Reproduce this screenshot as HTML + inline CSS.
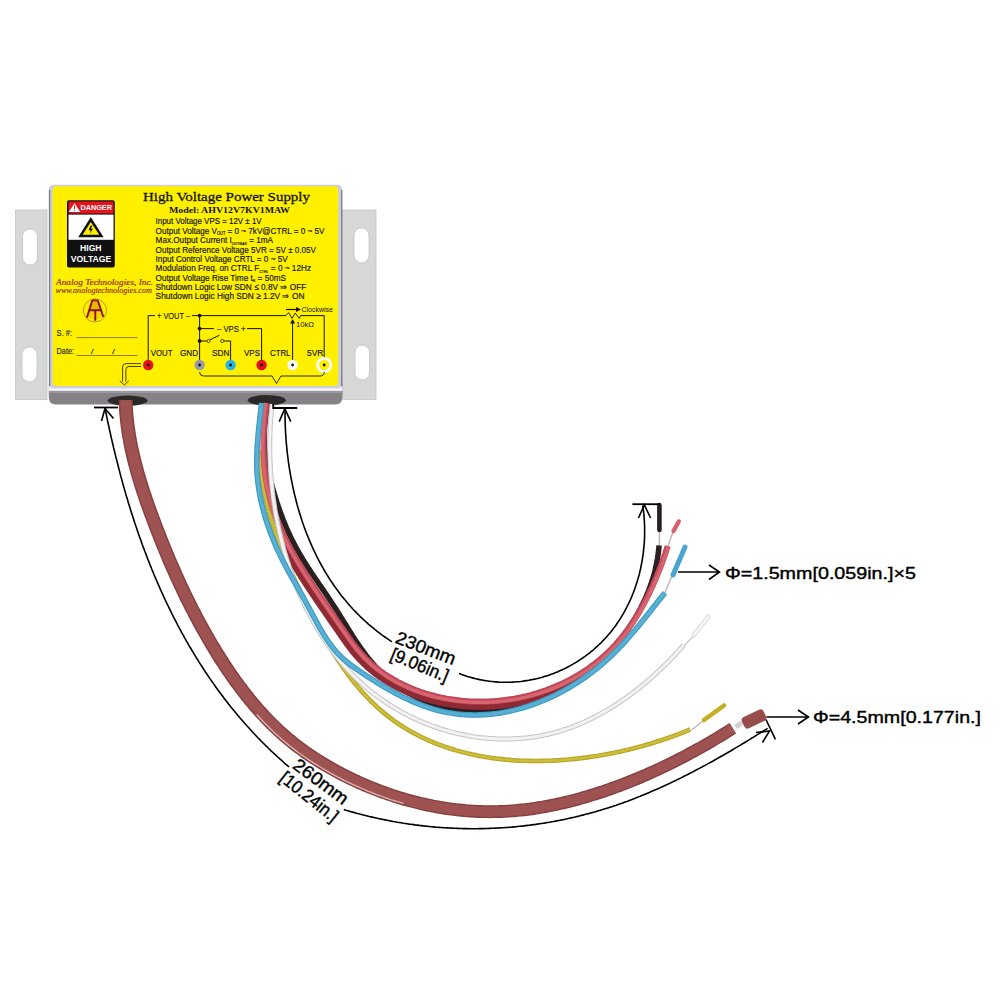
<!DOCTYPE html>
<html><head><meta charset="utf-8"><title>High Voltage Power Supply</title>
<style>
html,body{margin:0;padding:0;background:#fff;}
body{width:1000px;height:1000px;overflow:hidden;font-family:"Liberation Sans",sans-serif;}
svg{display:block;}
</style></head>
<body>
<svg width="1000" height="1000" viewBox="0 0 1000 1000">
<rect width="1000" height="1000" fill="#fff"/>
<rect x="15.5" y="210" width="31.5" height="189.5" fill="#d6d8d6" stroke="#c4c6c6" stroke-width="0.8"/><rect x="22.5" y="229" width="15" height="36" rx="7.5" fill="#ffffff" stroke="#c0c2c2" stroke-width="0.8"/><rect x="22" y="347" width="15" height="35" rx="7.5" fill="#ffffff" stroke="#c0c2c2" stroke-width="0.8"/>
<rect x="342.6" y="210" width="33.39999999999998" height="189.5" fill="#d6d8d6" stroke="#c4c6c6" stroke-width="0.8"/><rect x="354" y="228" width="15" height="35" rx="7.5" fill="#ffffff" stroke="#c0c2c2" stroke-width="0.8"/><rect x="355" y="345" width="14.5" height="35" rx="7.25" fill="#ffffff" stroke="#c0c2c2" stroke-width="0.8"/>
<path d="M48.8 384 L342.4 384 L342.4 397 Q342.4 404.5 335 404.6 L56 404.6 Q48.8 404.5 48.8 397 Z" fill="#868187"/>
<rect x="48.8" y="386" width="293.6" height="5" fill="#e6e6ee"/>
<rect x="48.8" y="388.6" width="293.6" height="1.4" fill="#f8f8fa"/>
<rect x="48.8" y="391" width="293.6" height="2" fill="#9c999e"/>
<rect x="48.8" y="184.8" width="293.4" height="203.5" rx="5" fill="#cdcde2"/>
<path d="M49.6 190 L49.6 386 M341.7 190 L341.7 386" stroke="#7c7c80" stroke-width="1.3"/>
<rect x="52.6" y="186.2" width="285.6" height="199.9" rx="4" fill="#fff000"/>
<ellipse cx="127.6" cy="400.6" rx="20" ry="5.2" fill="#2d2828"/>
<ellipse cx="266.8" cy="400.3" rx="19" ry="5.2" fill="#2d2828"/>
<text x="143" y="201" font-family="Liberation Serif" font-size="13.5" fill="#111" stroke="#111" stroke-width="0.28" textLength="167" lengthAdjust="spacingAndGlyphs">High Voltage Power Supply</text>
<text x="169" y="213" font-family="Liberation Serif" font-weight="bold" font-size="8.6" fill="#111" textLength="121" lengthAdjust="spacingAndGlyphs">Model: AHV12V7KV1MAW</text>
<text x="155.6" y="224.0" font-family="Liberation Sans" font-size="9.2" fill="#141400" stroke="#141400" stroke-width="0.18" textLength="106.0" lengthAdjust="spacingAndGlyphs">Input Voltage VPS = 12V ± 1V</text>
<text x="155.6" y="233.6" font-family="Liberation Sans" font-size="9.2" fill="#141400" stroke="#141400" stroke-width="0.18" textLength="168.8" lengthAdjust="spacingAndGlyphs">Output Voltage V<tspan font-size="4.5" dy="1.5">OUT</tspan><tspan dy="-1.5"> = 0 ~ 7kV@CTRL = 0 ~ 5V</tspan></text>
<text x="155.6" y="243.0" font-family="Liberation Sans" font-size="9.2" fill="#141400" stroke="#141400" stroke-width="0.18" textLength="117.4" lengthAdjust="spacingAndGlyphs">Max.Output Current I<tspan font-size="4" dy="1.5">OUTMAX</tspan><tspan dy="-1.5"> = 1mA</tspan></text>
<text x="155.6" y="252.6" font-family="Liberation Sans" font-size="9.2" fill="#141400" stroke="#141400" stroke-width="0.18" textLength="160.4" lengthAdjust="spacingAndGlyphs">Output Reference Voltage 5VR = 5V ± 0.05V</text>
<text x="155.6" y="261.6" font-family="Liberation Sans" font-size="9.2" fill="#141400" stroke="#141400" stroke-width="0.18" textLength="132.0" lengthAdjust="spacingAndGlyphs">Input Control Voltage CRTL = 0 ~ 5V</text>
<text x="155.6" y="271.0" font-family="Liberation Sans" font-size="9.2" fill="#141400" stroke="#141400" stroke-width="0.18" textLength="155.4" lengthAdjust="spacingAndGlyphs">Modulation Freq. on CTRL F<tspan font-size="4" dy="1.5">CTRL</tspan><tspan dy="-1.5"> = 0 ~ 12Hz</tspan></text>
<text x="155.6" y="280.5" font-family="Liberation Sans" font-size="9.2" fill="#141400" stroke="#141400" stroke-width="0.18" textLength="130.4" lengthAdjust="spacingAndGlyphs">Output Voltage Rise Time t<tspan font-size="4" dy="1.5">R</tspan><tspan dy="-1.5"> = 50mS</tspan></text>
<text x="155.6" y="289.7" font-family="Liberation Sans" font-size="9.2" fill="#141400" stroke="#141400" stroke-width="0.18" textLength="150.8" lengthAdjust="spacingAndGlyphs">Shutdown Logic Low SDN ≤ 0.8V ⇒ OFF</text>
<text x="155.6" y="299.0" font-family="Liberation Sans" font-size="9.2" fill="#141400" stroke="#141400" stroke-width="0.18" textLength="148.8" lengthAdjust="spacingAndGlyphs">Shutdown Logic High SDN ≥ 1.2V ⇒ ON</text>
<rect x="67" y="200.2" width="47.8" height="67.2" rx="2" fill="#111"/>
<rect x="68.5" y="201.6" width="45" height="11.8" rx="1" fill="#e8141c"/>
<rect x="68.5" y="214.6" width="45" height="25.2" fill="#ffffff"/>
<path d="M74.5 203.2 L80.3 212 L68.7 212 Z" fill="#fff"/>
<path d="M74.5 205.5 L74.5 209" stroke="#e8141c" stroke-width="1"/><circle cx="74.5" cy="210.5" r="0.5" fill="#e8141c"/>
<text x="80.4" y="210.4" font-family="Liberation Sans" font-weight="bold" font-size="7.6" fill="#fff" textLength="31.6" lengthAdjust="spacingAndGlyphs">DANGER</text>
<path d="M90.8 217 L103.6 237.2 L78.2 237.2 Z" fill="#111"/>
<path d="M90.8 222 L99.2 234.8 L82.6 234.8 Z" fill="#fff000"/>
<path d="M90.6 225.4 L88.6 230.2 L90.8 230.2 L89.9 233.8 L93 228.8 L91 228.8 L92.4 225.4 Z" fill="#111"/>
<text x="80" y="251.4" font-family="Liberation Sans" font-weight="bold" font-size="8.3" fill="#fff" textLength="21.6" lengthAdjust="spacingAndGlyphs">HIGH</text>
<text x="70.8" y="262.2" font-family="Liberation Sans" font-weight="bold" font-size="8.3" fill="#fff" textLength="40.4" lengthAdjust="spacingAndGlyphs">VOLTAGE</text>
<text x="56" y="284.9" font-family="Liberation Serif" font-style="italic" font-size="8.8" fill="#9c3408" stroke="#9c3408" stroke-width="0.22" textLength="96.9" lengthAdjust="spacingAndGlyphs">Analog Technologies, Inc.</text>
<text x="55.5" y="293.1" font-family="Liberation Serif" font-style="italic" font-size="7.8" fill="#9c3408" stroke="#9c3408" stroke-width="0.18" textLength="96.3" lengthAdjust="spacingAndGlyphs">www.analogtechnologies.com</text>
<circle cx="95" cy="310.4" r="11.6" fill="none" stroke="#a87010" stroke-width="0.7"/>
<path d="M92.6 300.6 L97.4 300.6 L100.6 310.2 L89.6 310.2 Z" fill="#e4b800"/>
<path d="M89.4 311 L94.2 311 L94.2 320 L87.2 317 Z M96.4 311 L101 311 L103.2 317 L96.4 320 Z" fill="#f0d400"/>
<path d="M92.3 300.2 L86.9 317.6 M97.7 300.2 L103.4 317 M92.3 300.4 L97.7 300.4 M89.4 310.2 L101.2 310.2 M95.3 310.2 L95.3 320.8" stroke="#900c18" stroke-width="1.9" fill="none" stroke-linecap="butt"/>
<text x="56.6" y="336" font-family="Liberation Sans" font-size="8.2" fill="#1a1a00" stroke="#1a1a00" stroke-width="0.12" textLength="15.6" lengthAdjust="spacingAndGlyphs">S. #:</text>
<path d="M76.4 337.6 L137.5 337.6 M76.4 355.5 L137.5 355.5" stroke="#5a4a00" stroke-width="0.7"/>
<text x="56.6" y="354" font-family="Liberation Sans" font-size="8.2" fill="#1a1a00" stroke="#1a1a00" stroke-width="0.12" textLength="17.4" lengthAdjust="spacingAndGlyphs">Date:</text>
<text x="91" y="354" font-family="Liberation Sans" font-style="italic" font-weight="bold" font-size="7.4" fill="#1a1a00">/</text>
<text x="112.2" y="354" font-family="Liberation Sans" font-style="italic" font-weight="bold" font-size="7.4" fill="#1a1a00">/</text>
<path d="M148.2 365 L148.2 315.6 L155 315.6 M192 315.6 L286 315.6 M300.5 315.6 L324.2 315.6 L324.2 365 M199.6 315.6 L199.6 365 M199.6 328.6 L214 328.6 M247 328.6 L261.6 328.6 L261.6 365 M199.6 341 L206.8 341 M210 339.8 L219.5 335.2 M224 341 L230.6 341 L230.6 365 M292.6 365 L292.6 321" stroke="#141400" stroke-width="1" fill="none"/>
<path d="M285.6 315.6 L288.8 312.8 L292 318.4 L295.2 313 L299.2 318.4 L300.8 315.6" stroke="#141400" stroke-width="0.9" fill="none"/>
<path d="M292.6 319.2 L290 323.6 L295.2 323.6 Z" fill="#141400"/>
<path d="M286 309.5 L297 309.5" stroke="#141400" stroke-width="1.2"/><path d="M296 307 L301 309.5 L296 312 Z" fill="#141400"/>
<text x="301.5" y="312" font-family="Liberation Sans" font-size="7.2" fill="#141400" textLength="31.5" lengthAdjust="spacingAndGlyphs">Clockwise</text>
<text x="296" y="326.5" font-family="Liberation Sans" font-size="7.2" fill="#141400" textLength="18" lengthAdjust="spacingAndGlyphs">10kΩ</text>
<circle cx="208.5" cy="341" r="1.6" fill="#fff000" stroke="#141400" stroke-width="0.7"/>
<circle cx="222.2" cy="341" r="1.6" fill="#fff000" stroke="#141400" stroke-width="0.7"/>
<circle cx="199.6" cy="315.6" r="1.9" fill="#141400"/>
<circle cx="199.6" cy="328.6" r="1.9" fill="#141400"/>
<circle cx="199.6" cy="341" r="1.9" fill="#141400"/>
<text x="157" y="318.6" font-family="Liberation Sans" font-size="8.6" fill="#141400" stroke="#141400" stroke-width="0.12" textLength="33" lengthAdjust="spacingAndGlyphs">+ VOUT –</text>
<text x="217" y="331.6" font-family="Liberation Sans" font-size="8.6" fill="#141400" stroke="#141400" stroke-width="0.12" textLength="28.5" lengthAdjust="spacingAndGlyphs">– VPS +</text>
<text x="150.8" y="355.6" font-family="Liberation Sans" font-size="9" fill="#141400" stroke="#141400" stroke-width="0.15" textLength="21.6" lengthAdjust="spacingAndGlyphs">VOUT</text>
<text x="180" y="355.6" font-family="Liberation Sans" font-size="9" fill="#141400" stroke="#141400" stroke-width="0.15" textLength="18" lengthAdjust="spacingAndGlyphs">GND</text>
<text x="212" y="355.6" font-family="Liberation Sans" font-size="9" fill="#141400" stroke="#141400" stroke-width="0.15" textLength="17.4" lengthAdjust="spacingAndGlyphs">SDN</text>
<text x="244" y="355.6" font-family="Liberation Sans" font-size="9" fill="#141400" stroke="#141400" stroke-width="0.15" textLength="16" lengthAdjust="spacingAndGlyphs">VPS</text>
<text x="270" y="355.6" font-family="Liberation Sans" font-size="9" fill="#141400" stroke="#141400" stroke-width="0.15" textLength="20.4" lengthAdjust="spacingAndGlyphs">CTRL</text>
<text x="307" y="355.6" font-family="Liberation Sans" font-size="9" fill="#141400" stroke="#141400" stroke-width="0.15" textLength="16.4" lengthAdjust="spacingAndGlyphs">5VR</text>
<circle cx="148.2" cy="365" r="5.2" fill="#e8101c"/>
<circle cx="199.6" cy="365" r="5.2" fill="#9a9aa4"/>
<circle cx="230.6" cy="365" r="5.2" fill="#27b4ea"/>
<circle cx="261.6" cy="365" r="5.2" fill="#e8101c"/>
<circle cx="292.6" cy="365" r="5.2" fill="#ffffff"/>
<circle cx="324.2" cy="365" r="8" fill="#ffffff"/><circle cx="324.2" cy="365" r="5.2" fill="#fff000"/>
<circle cx="148.2" cy="365" r="1.4" fill="#111"/>
<circle cx="199.6" cy="365" r="1.4" fill="#111"/>
<circle cx="230.6" cy="365" r="1.4" fill="#111"/>
<circle cx="261.6" cy="365" r="1.4" fill="#111"/>
<circle cx="292.6" cy="365" r="1.4" fill="#111"/>
<circle cx="324.2" cy="365" r="1.4" fill="#111"/>
<path d="M199.6 372 Q199.6 376 203.6 376 L272 376 L276.5 383.5 L281 376 L320 376 Q324.2 376 324.2 372" stroke="#141400" stroke-width="0.9" fill="none"/>
<path d="M141 363.6 L126 363.6 Q122.6 363.6 122.6 367 L122.6 381.5 M141 366.5 L129 366.5 Q125.9 366.5 125.9 369.6 L125.9 381.5 M119.8 380.8 L124.3 385 L128.8 380.8" stroke="#141400" stroke-width="0.8" fill="none"/>
<path d="M118.6 400.3 L118.7 402.4 L118.8 404.4 L118.9 406.5 L119.0 408.5 L119.1 410.6 L119.2 412.6 L119.4 414.7 L119.6 416.7 L119.8 418.7 L120.0 420.8 L120.2 422.8 L120.5 424.8 L120.7 426.9 L121.0 428.9 L121.3 430.9 L121.6 432.9 L121.9 434.9 L122.2 437.0 L122.6 439.0 L123.0 441.0 L123.3 443.0 L123.7 445.0 L124.1 447.0 L124.5 449.0 L124.9 451.0 L125.4 453.0 L125.8 455.0 L126.3 456.9 L126.7 458.9 L127.2 460.9 L127.7 462.9 L128.2 464.9 L128.7 466.8 L129.3 468.8 L129.8 470.8 L130.3 472.7 L130.9 474.7 L131.4 476.7 L132.0 478.6 L132.6 480.6 L133.2 482.5 L133.8 484.5 L134.4 486.4 L135.0 488.4 L135.6 490.3 L136.2 492.2 L136.9 494.2 L137.5 496.1 L138.2 498.0 L138.8 500.0 L139.5 501.9 L140.1 503.8 L140.8 505.7 L141.5 507.7 L142.2 509.6 L142.9 511.5 L143.5 513.4 L144.2 515.3 L144.9 517.2 L145.7 519.1 L146.4 521.0 L147.1 522.9 L147.8 524.8 L148.5 526.7 L149.2 528.6 L150.0 530.5 L150.7 532.3 L151.4 534.2 L152.2 536.1 L152.9 538.0 L153.6 539.9 L154.4 541.7 L155.1 543.6 L155.9 545.5 L156.6 547.4 L157.4 549.2 L158.2 551.1 L158.9 553.0 L159.7 554.8 L160.5 556.7 L161.3 558.5 L162.0 560.4 L162.8 562.2 L163.6 564.1 L164.4 565.9 L165.2 567.8 L166.0 569.6 L166.8 571.5 L167.7 573.3 L168.5 575.2 L169.3 577.0 L170.1 578.8 L171.0 580.7 L171.8 582.5 L172.6 584.3 L173.5 586.2 L174.3 588.0 L175.2 589.8 L176.0 591.6 L176.9 593.5 L177.8 595.3 L178.7 597.1 L179.5 598.9 L180.4 600.7 L181.3 602.5 L182.2 604.3 L183.1 606.1 L184.0 607.9 L184.9 609.7 L185.8 611.5 L186.8 613.3 L187.7 615.1 L188.6 616.9 L189.6 618.7 L190.5 620.5 L191.5 622.3 L192.4 624.1 L193.4 625.9 L194.3 627.6 L195.3 629.4 L196.3 631.2 L197.3 633.0 L198.3 634.7 L199.3 636.5 L200.3 638.3 L201.3 640.0 L202.3 641.8 L203.3 643.5 L204.4 645.3 L205.4 647.0 L206.4 648.8 L207.5 650.5 L208.5 652.3 L209.6 654.0 L210.7 655.8 L211.7 657.5 L212.8 659.2 L213.9 661.0 L215.0 662.7 L216.1 664.4 L217.2 666.1 L218.4 667.8 L219.5 669.6 L220.6 671.3 L221.7 673.0 L222.9 674.7 L224.1 676.3 L225.2 678.0 L226.4 679.7 L227.6 681.4 L228.7 683.1 L229.9 684.7 L231.1 686.4 L232.4 688.0 L233.6 689.7 L234.8 691.3 L236.0 692.9 L237.3 694.6 L238.5 696.2 L239.8 697.8 L241.0 699.4 L242.3 701.0 L243.6 702.6 L244.9 704.2 L246.2 705.8 L247.5 707.3 L248.8 708.9 L250.1 710.4 L251.5 712.0 L252.8 713.5 L254.2 715.1 L255.5 716.6 L256.9 718.1 L258.3 719.6 L259.7 721.1 L261.1 722.6 L262.5 724.0 L263.9 725.5 L265.3 726.9 L266.8 728.4 L268.2 729.8 L269.7 731.2 L271.1 732.6 L272.6 734.0 L274.1 735.4 L275.6 736.8 L277.1 738.2 L278.6 739.5 L280.2 740.9 L281.7 742.2 L283.3 743.5 L284.8 744.8 L286.4 746.1 L288.0 747.4 L289.6 748.7 L291.2 749.9 L292.8 751.2 L294.5 752.4 L296.1 753.6 L297.7 754.8 L299.4 756.0 L301.0 757.2 L302.7 758.4 L304.4 759.5 L306.1 760.7 L307.8 761.8 L309.5 762.9 L311.2 764.0 L312.9 765.1 L314.6 766.2 L316.4 767.3 L318.1 768.4 L319.9 769.4 L321.6 770.5 L323.4 771.5 L325.1 772.5 L326.9 773.5 L328.7 774.5 L330.5 775.5 L332.3 776.5 L334.1 777.5 L335.9 778.5 L337.7 779.4 L339.5 780.4 L341.3 781.3 L343.2 782.2 L345.0 783.1 L346.8 784.0 L348.7 784.9 L350.6 785.8 L352.4 786.7 L354.3 787.5 L356.2 788.4 L358.0 789.2 L359.9 790.1 L361.8 790.9 L363.7 791.7 L365.6 792.5 L367.5 793.3 L369.4 794.0 L371.3 794.8 L373.2 795.5 L375.2 796.3 L377.1 797.0 L379.0 797.7 L380.9 798.4 L382.9 799.1 L384.8 799.8 L386.8 800.5 L388.7 801.1 L390.7 801.8 L392.6 802.4 L394.6 803.1 L396.6 803.7 L398.5 804.3 L400.5 804.9 L402.5 805.4 L404.5 806.0 L406.5 806.5 L408.4 807.1 L410.4 807.6 L412.4 808.1 L414.4 808.6 L416.4 809.1 L418.4 809.6 L420.4 810.1 L422.4 810.5 L424.5 811.0 L426.5 811.4 L428.5 811.8 L430.5 812.2 L432.5 812.6 L434.5 813.0 L436.6 813.4 L438.6 813.7 L440.6 814.0 L442.6 814.4 L444.7 814.7 L446.7 815.0 L448.7 815.3 L450.8 815.5 L452.8 815.8 L454.8 816.1 L456.9 816.3 L458.9 816.5 L461.0 816.7 L463.0 816.9 L465.0 817.1 L467.1 817.3 L469.1 817.4 L471.2 817.5 L473.2 817.7 L475.3 817.8 L477.3 817.9 L479.4 818.0 L481.4 818.0 L483.4 818.1 L485.5 818.1 L487.5 818.1 L489.6 818.2 L491.6 818.1 L493.7 818.1 L495.7 818.1 L497.8 818.1 L499.8 818.0 L501.8 817.9 L503.9 817.8 L505.9 817.7 L507.9 817.6 L510.0 817.5 L512.0 817.3 L514.0 817.2 L516.1 817.0 L518.1 816.8 L520.1 816.6 L522.2 816.4 L524.2 816.2 L526.2 815.9 L528.2 815.7 L530.2 815.4 L532.3 815.2 L534.3 814.9 L536.3 814.6 L538.3 814.3 L540.3 813.9 L542.3 813.6 L544.3 813.3 L546.3 812.9 L548.3 812.5 L550.3 812.1 L552.3 811.8 L554.3 811.3 L556.3 810.9 L558.3 810.5 L560.3 810.1 L562.3 809.6 L564.3 809.2 L566.2 808.7 L568.2 808.2 L570.2 807.7 L572.2 807.2 L574.1 806.7 L576.1 806.2 L578.1 805.7 L580.1 805.2 L582.0 804.6 L584.0 804.1 L585.9 803.5 L587.9 802.9 L589.8 802.3 L591.8 801.7 L593.7 801.1 L595.7 800.5 L597.6 799.9 L599.6 799.3 L601.5 798.7 L603.4 798.0 L605.4 797.4 L607.3 796.7 L609.2 796.1 L611.1 795.4 L613.0 794.7 L615.0 794.0 L616.9 793.3 L618.8 792.6 L620.7 791.9 L622.6 791.2 L624.5 790.5 L626.4 789.8 L628.3 789.0 L630.2 788.3 L632.1 787.5 L633.9 786.8 L635.8 786.0 L637.7 785.2 L639.6 784.4 L641.5 783.7 L643.3 782.9 L645.2 782.1 L647.1 781.3 L648.9 780.4 L650.8 779.6 L652.6 778.8 L654.5 778.0 L656.3 777.1 L658.2 776.3 L660.0 775.4 L661.9 774.6 L663.7 773.7 L665.5 772.8 L667.4 772.0 L669.2 771.1 L671.0 770.2 L672.8 769.3 L674.6 768.4 L676.5 767.5 L678.3 766.6 L680.1 765.7 L681.9 764.8 L683.7 763.8 L685.5 762.9 L687.3 761.9 L689.1 761.0 L690.9 760.1 L692.6 759.1 L694.4 758.1 L696.2 757.2 L698.0 756.2 L699.7 755.2 L701.5 754.2 L703.3 753.2 L705.0 752.2 L706.8 751.2 L708.6 750.2 L710.3 749.2 L712.0 748.2 L713.8 747.2 L715.5 746.2 L717.3 745.1 L719.0 744.1 L720.7 743.1 L722.5 742.0 L724.2 741.0 L725.9 739.9 L727.6 738.9 L729.3 737.8 L731.0 736.7 L732.7 735.7 L734.4 734.6 L736.1 733.5 L729.5 723.1 L727.8 724.1 L726.1 725.2 L724.5 726.2 L722.8 727.3 L721.1 728.3 L719.4 729.3 L717.7 730.4 L716.0 731.4 L714.3 732.4 L712.6 733.4 L710.9 734.4 L709.2 735.5 L707.5 736.5 L705.8 737.5 L704.1 738.4 L702.4 739.4 L700.6 740.4 L698.9 741.4 L697.2 742.4 L695.4 743.3 L693.7 744.3 L692.0 745.2 L690.2 746.2 L688.5 747.1 L686.7 748.1 L685.0 749.0 L683.2 750.0 L681.5 750.9 L679.7 751.8 L677.9 752.7 L676.2 753.6 L674.4 754.5 L672.6 755.4 L670.9 756.3 L669.1 757.2 L667.3 758.1 L665.5 758.9 L663.7 759.8 L661.9 760.7 L660.1 761.5 L658.3 762.4 L656.5 763.2 L654.7 764.0 L652.9 764.9 L651.1 765.7 L649.3 766.5 L647.5 767.3 L645.7 768.1 L643.9 768.9 L642.1 769.7 L640.2 770.5 L638.4 771.3 L636.6 772.0 L634.7 772.8 L632.9 773.6 L631.1 774.3 L629.2 775.1 L627.4 775.8 L625.5 776.5 L623.7 777.3 L621.8 778.0 L620.0 778.7 L618.1 779.4 L616.3 780.1 L614.4 780.8 L612.5 781.4 L610.7 782.1 L608.8 782.8 L606.9 783.4 L605.1 784.1 L603.2 784.7 L601.3 785.4 L599.4 786.0 L597.5 786.6 L595.7 787.2 L593.8 787.8 L591.9 788.4 L590.0 789.0 L588.1 789.6 L586.2 790.2 L584.3 790.7 L582.4 791.3 L580.5 791.8 L578.6 792.4 L576.7 792.9 L574.8 793.4 L572.9 793.9 L571.0 794.4 L569.1 794.9 L567.1 795.4 L565.2 795.8 L563.3 796.3 L561.4 796.8 L559.5 797.2 L557.5 797.6 L555.6 798.0 L553.7 798.4 L551.8 798.8 L549.8 799.2 L547.9 799.6 L546.0 800.0 L544.1 800.3 L542.1 800.7 L540.2 801.0 L538.2 801.3 L536.3 801.6 L534.4 801.9 L532.4 802.2 L530.5 802.5 L528.6 802.7 L526.6 803.0 L524.7 803.2 L522.7 803.4 L520.8 803.6 L518.8 803.8 L516.9 804.0 L515.0 804.2 L513.0 804.4 L511.1 804.5 L509.1 804.7 L507.2 804.8 L505.2 804.9 L503.3 805.0 L501.3 805.1 L499.4 805.1 L497.4 805.2 L495.5 805.2 L493.5 805.3 L491.6 805.3 L489.6 805.3 L487.7 805.3 L485.7 805.2 L483.7 805.2 L481.8 805.1 L479.8 805.1 L477.9 805.0 L475.9 804.9 L474.0 804.8 L472.0 804.7 L470.1 804.5 L468.1 804.4 L466.1 804.2 L464.2 804.0 L462.2 803.8 L460.3 803.6 L458.3 803.4 L456.4 803.2 L454.4 803.0 L452.5 802.7 L450.5 802.4 L448.6 802.2 L446.6 801.9 L444.7 801.6 L442.7 801.2 L440.8 800.9 L438.8 800.6 L436.9 800.2 L435.0 799.9 L433.0 799.5 L431.1 799.1 L429.1 798.7 L427.2 798.3 L425.3 797.8 L423.4 797.4 L421.4 796.9 L419.5 796.5 L417.6 796.0 L415.7 795.5 L413.8 795.0 L411.8 794.5 L409.9 794.0 L408.0 793.4 L406.1 792.9 L404.2 792.3 L402.3 791.8 L400.4 791.2 L398.5 790.6 L396.6 790.0 L394.8 789.4 L392.9 788.8 L391.0 788.1 L389.1 787.5 L387.3 786.8 L385.4 786.1 L383.5 785.4 L381.7 784.8 L379.8 784.1 L378.0 783.3 L376.1 782.6 L374.3 781.9 L372.5 781.1 L370.6 780.4 L368.8 779.6 L367.0 778.8 L365.2 778.0 L363.4 777.2 L361.6 776.4 L359.8 775.6 L358.0 774.8 L356.2 773.9 L354.4 773.1 L352.6 772.2 L350.8 771.3 L349.1 770.5 L347.3 769.6 L345.6 768.7 L343.8 767.7 L342.1 766.8 L340.3 765.9 L338.6 765.0 L336.9 764.0 L335.1 763.0 L333.4 762.1 L331.7 761.1 L330.0 760.1 L328.3 759.1 L326.7 758.1 L325.0 757.1 L323.3 756.1 L321.7 755.0 L320.0 754.0 L318.4 752.9 L316.7 751.8 L315.1 750.8 L313.5 749.7 L311.9 748.6 L310.3 747.5 L308.7 746.4 L307.1 745.2 L305.5 744.1 L304.0 742.9 L302.4 741.8 L300.9 740.6 L299.3 739.4 L297.8 738.2 L296.3 737.0 L294.8 735.8 L293.3 734.6 L291.8 733.4 L290.4 732.1 L288.9 730.8 L287.4 729.6 L286.0 728.3 L284.6 727.0 L283.1 725.7 L281.7 724.3 L280.3 723.0 L278.9 721.7 L277.5 720.3 L276.2 718.9 L274.8 717.6 L273.4 716.2 L272.1 714.8 L270.7 713.4 L269.4 711.9 L268.1 710.5 L266.8 709.1 L265.4 707.6 L264.1 706.2 L262.8 704.7 L261.6 703.2 L260.3 701.7 L259.0 700.2 L257.7 698.7 L256.5 697.2 L255.2 695.7 L254.0 694.2 L252.8 692.6 L251.5 691.1 L250.3 689.5 L249.1 688.0 L247.9 686.4 L246.7 684.8 L245.5 683.3 L244.3 681.7 L243.2 680.1 L242.0 678.5 L240.8 676.9 L239.7 675.3 L238.5 673.6 L237.4 672.0 L236.3 670.4 L235.1 668.7 L234.0 667.1 L232.9 665.4 L231.8 663.8 L230.7 662.1 L229.6 660.5 L228.5 658.8 L227.5 657.1 L226.4 655.4 L225.3 653.8 L224.3 652.1 L223.2 650.4 L222.2 648.7 L221.1 647.0 L220.1 645.3 L219.1 643.6 L218.0 641.9 L217.0 640.2 L216.0 638.4 L215.0 636.7 L214.0 635.0 L213.0 633.3 L212.0 631.6 L211.1 629.8 L210.1 628.1 L209.1 626.4 L208.2 624.6 L207.2 622.9 L206.2 621.1 L205.3 619.4 L204.4 617.7 L203.4 615.9 L202.5 614.2 L201.6 612.4 L200.7 610.6 L199.8 608.9 L198.8 607.1 L197.9 605.4 L197.0 603.6 L196.2 601.8 L195.3 600.1 L194.4 598.3 L193.5 596.5 L192.6 594.7 L191.8 593.0 L190.9 591.2 L190.1 589.4 L189.2 587.6 L188.4 585.8 L187.5 584.0 L186.7 582.2 L185.9 580.4 L185.0 578.6 L184.2 576.8 L183.4 575.0 L182.6 573.2 L181.8 571.4 L181.0 569.6 L180.2 567.8 L179.4 566.0 L178.6 564.2 L177.8 562.4 L177.0 560.5 L176.2 558.7 L175.4 556.9 L174.7 555.1 L173.9 553.2 L173.1 551.4 L172.4 549.6 L171.6 547.7 L170.9 545.9 L170.1 544.0 L169.4 542.2 L168.6 540.4 L167.9 538.5 L167.1 536.7 L166.4 534.8 L165.7 533.0 L165.0 531.1 L164.2 529.2 L163.5 527.4 L162.8 525.5 L162.1 523.7 L161.4 521.8 L160.7 519.9 L160.0 518.0 L159.3 516.2 L158.6 514.3 L157.9 512.4 L157.2 510.6 L156.5 508.7 L155.8 506.8 L155.2 504.9 L154.5 503.1 L153.8 501.2 L153.2 499.3 L152.5 497.4 L151.9 495.5 L151.3 493.6 L150.6 491.7 L150.0 489.9 L149.4 488.0 L148.8 486.1 L148.2 484.2 L147.6 482.3 L147.0 480.4 L146.4 478.5 L145.9 476.6 L145.3 474.7 L144.8 472.8 L144.2 470.9 L143.7 469.0 L143.2 467.1 L142.7 465.2 L142.2 463.3 L141.7 461.4 L141.2 459.5 L140.7 457.6 L140.3 455.7 L139.8 453.8 L139.4 451.9 L139.0 450.0 L138.5 448.1 L138.1 446.1 L137.7 444.2 L137.4 442.3 L137.0 440.4 L136.7 438.5 L136.3 436.6 L136.0 434.7 L135.7 432.7 L135.4 430.8 L135.1 428.9 L134.8 427.0 L134.6 425.0 L134.3 423.1 L134.1 421.2 L133.9 419.3 L133.7 417.3 L133.5 415.4 L133.3 413.5 L133.2 411.6 L133.0 409.6 L132.9 407.7 L132.8 405.8 L132.7 403.8 L132.7 401.9 L132.6 399.9 Z" fill="#86403f"/>
<path d="M120.1 400.3 L120.2 402.3 L120.3 404.4 L120.3 406.4 L120.5 408.4 L120.6 410.5 L120.7 412.5 L120.9 414.5 L121.1 416.6 L121.3 418.6 L121.5 420.6 L121.7 422.6 L122.0 424.6 L122.2 426.7 L122.5 428.7 L122.8 430.7 L123.1 432.7 L123.4 434.7 L123.7 436.7 L124.1 438.7 L124.4 440.7 L124.8 442.7 L125.2 444.7 L125.6 446.7 L126.0 448.7 L126.4 450.7 L126.8 452.6 L127.3 454.6 L127.7 456.6 L128.2 458.6 L128.7 460.5 L129.2 462.5 L129.7 464.5 L130.2 466.5 L130.7 468.4 L131.2 470.4 L131.8 472.3 L132.3 474.3 L132.9 476.2 L133.4 478.2 L134.0 480.1 L134.6 482.1 L135.2 484.0 L135.8 486.0 L136.4 487.9 L137.0 489.8 L137.7 491.8 L138.3 493.7 L138.9 495.6 L139.6 497.6 L140.2 499.5 L140.9 501.4 L141.5 503.3 L142.2 505.2 L142.9 507.2 L143.6 509.1 L144.3 511.0 L144.9 512.9 L145.6 514.8 L146.3 516.7 L147.0 518.6 L147.8 520.5 L148.5 522.4 L149.2 524.3 L149.9 526.2 L150.6 528.0 L151.3 529.9 L152.1 531.8 L152.8 533.7 L153.5 535.6 L154.3 537.4 L155.0 539.3 L155.8 541.2 L156.5 543.1 L157.3 544.9 L158.0 546.8 L158.8 548.7 L159.5 550.5 L160.3 552.4 L161.1 554.2 L161.9 556.1 L162.6 558.0 L163.4 559.8 L164.2 561.7 L165.0 563.5 L165.8 565.4 L166.6 567.2 L167.4 569.1 L168.2 570.9 L169.0 572.7 L169.8 574.6 L170.6 576.4 L171.5 578.2 L172.3 580.1 L173.1 581.9 L174.0 583.7 L174.8 585.6 L175.7 587.4 L176.5 589.2 L177.4 591.0 L178.2 592.8 L179.1 594.6 L180.0 596.5 L180.9 598.3 L181.7 600.1 L182.6 601.9 L183.5 603.7 L184.4 605.5 L185.3 607.3 L186.2 609.1 L187.2 610.9 L188.1 612.7 L189.0 614.5 L189.9 616.2 L190.9 618.0 L191.8 619.8 L192.8 621.6 L193.7 623.4 L194.7 625.2 L195.6 626.9 L196.6 628.7 L197.6 630.5 L198.6 632.2 L199.6 634.0 L200.6 635.8 L201.6 637.5 L202.6 639.3 L203.6 641.0 L204.6 642.8 L205.6 644.5 L206.7 646.3 L207.7 648.0 L208.7 649.8 L209.8 651.5 L210.9 653.3 L211.9 655.0 L213.0 656.7 L214.1 658.5 L215.2 660.2 L216.3 661.9 L217.4 663.6 L218.5 665.3 L219.6 667.0 L220.7 668.7 L221.8 670.4 L223.0 672.1 L224.1 673.8 L225.3 675.5 L226.4 677.2 L227.6 678.9 L228.8 680.5 L229.9 682.2 L231.1 683.9 L232.3 685.5 L233.5 687.2 L234.7 688.8 L236.0 690.4 L237.2 692.1 L238.4 693.7 L239.7 695.3 L240.9 696.9 L242.2 698.5 L243.5 700.1 L244.7 701.7 L246.0 703.3 L247.3 704.8 L248.6 706.4 L249.9 707.9 L251.2 709.5 L252.6 711.0 L253.9 712.6 L255.2 714.1 L256.6 715.6 L258.0 717.1 L259.3 718.6 L260.7 720.1 L262.1 721.5 L263.5 723.0 L264.9 724.5 L266.4 725.9 L267.8 727.3 L269.2 728.8 L270.7 730.2 L272.1 731.6 L273.6 733.0 L275.1 734.4 L276.6 735.7 L278.1 737.1 L279.6 738.4 L281.1 739.8 L282.7 741.1 L284.2 742.4 L285.8 743.7 L287.3 745.0 L288.9 746.3 L290.5 747.5 L292.1 748.8 L293.7 750.0 L295.3 751.2 L297.0 752.4 L298.6 753.6 L300.2 754.8 L301.9 756.0 L303.5 757.2 L305.2 758.3 L306.9 759.5 L308.6 760.6 L310.3 761.7 L312.0 762.8 L313.7 763.9 L315.4 765.0 L317.1 766.1 L318.9 767.1 L320.6 768.2 L322.3 769.2 L324.1 770.2 L325.9 771.3 L327.6 772.3 L329.4 773.3 L331.2 774.3 L333.0 775.2 L334.8 776.2 L336.6 777.2 L338.4 778.1 L340.2 779.1 L342.0 780.0 L343.8 780.9 L345.6 781.8 L347.5 782.7 L349.3 783.6 L351.2 784.5 L353.0 785.4 L354.9 786.2 L356.7 787.1 L358.6 787.9 L360.5 788.7 L362.4 789.5 L364.3 790.3 L366.1 791.1 L368.0 791.9 L369.9 792.7 L371.8 793.4 L373.8 794.2 L375.7 794.9 L377.6 795.7 L379.5 796.4 L381.4 797.1 L383.4 797.8 L385.3 798.4 L387.2 799.1 L389.2 799.8 L391.1 800.4 L393.1 801.1 L395.0 801.7 L397.0 802.3 L399.0 802.9 L400.9 803.5 L402.9 804.0 L404.9 804.6 L406.8 805.2 L408.8 805.7 L410.8 806.2 L412.8 806.7 L414.8 807.2 L416.8 807.7 L418.8 808.2 L420.8 808.7 L422.8 809.1 L424.8 809.6 L426.8 810.0 L428.8 810.4 L430.8 810.8 L432.8 811.2 L434.8 811.6 L436.8 811.9 L438.8 812.3 L440.8 812.6 L442.9 813.0 L444.9 813.3 L446.9 813.6 L448.9 813.9 L451.0 814.1 L453.0 814.4 L455.0 814.6 L457.0 814.9 L459.1 815.1 L461.1 815.3 L463.1 815.5 L465.2 815.7 L467.2 815.8 L469.2 816.0 L471.3 816.1 L473.3 816.2 L475.3 816.3 L477.4 816.4 L479.4 816.5 L481.4 816.6 L483.5 816.6 L485.5 816.7 L487.5 816.7 L489.6 816.7 L491.6 816.7 L493.6 816.7 L495.7 816.7 L497.7 816.6 L499.7 816.6 L501.8 816.5 L503.8 816.4 L505.8 816.3 L507.9 816.2 L509.9 816.0 L511.9 815.9 L513.9 815.7 L515.9 815.6 L518.0 815.4 L520.0 815.2 L522.0 815.0 L524.0 814.8 L526.0 814.5 L528.0 814.3 L530.1 814.0 L532.1 813.7 L534.1 813.5 L536.1 813.2 L538.1 812.8 L540.1 812.5 L542.1 812.2 L544.1 811.8 L546.1 811.5 L548.1 811.1 L550.1 810.7 L552.0 810.4 L554.0 810.0 L556.0 809.5 L558.0 809.1 L560.0 808.7 L562.0 808.2 L563.9 807.8 L565.9 807.3 L567.9 806.8 L569.9 806.4 L571.8 805.9 L573.8 805.4 L575.8 804.8 L577.7 804.3 L579.7 803.8 L581.6 803.2 L583.6 802.7 L585.5 802.1 L587.5 801.6 L589.4 801.0 L591.4 800.4 L593.3 799.8 L595.3 799.2 L597.2 798.6 L599.1 798.0 L601.1 797.3 L603.0 796.7 L604.9 796.0 L606.8 795.4 L608.7 794.7 L610.7 794.1 L612.6 793.4 L614.5 792.7 L616.4 792.0 L618.3 791.3 L620.2 790.6 L622.1 789.9 L624.0 789.2 L625.9 788.4 L627.8 787.7 L629.7 787.0 L631.5 786.2 L633.4 785.5 L635.3 784.7 L637.2 783.9 L639.0 783.1 L640.9 782.4 L642.8 781.6 L644.6 780.8 L646.5 780.0 L648.4 779.2 L650.2 778.3 L652.1 777.5 L653.9 776.7 L655.8 775.9 L657.6 775.0 L659.4 774.2 L661.3 773.3 L663.1 772.4 L664.9 771.6 L666.8 770.7 L668.6 769.8 L670.4 768.9 L672.2 768.0 L674.0 767.1 L675.8 766.2 L677.6 765.3 L679.4 764.4 L681.2 763.5 L683.0 762.6 L684.8 761.6 L686.6 760.7 L688.4 759.8 L690.2 758.8 L692.0 757.9 L693.8 756.9 L695.5 755.9 L697.3 755.0 L699.1 754.0 L700.8 753.0 L702.6 752.0 L704.3 751.0 L706.1 750.0 L707.9 749.0 L709.6 748.0 L711.3 747.0 L713.1 746.0 L714.8 745.0 L716.6 743.9 L718.3 742.9 L720.0 741.9 L721.7 740.8 L723.5 739.8 L725.2 738.7 L726.9 737.7 L728.6 736.6 L730.3 735.6 L732.0 734.5 L733.7 733.4 L735.4 732.3 L730.2 724.2 L728.6 725.3 L726.9 726.4 L725.2 727.4 L723.5 728.5 L721.8 729.5 L720.1 730.5 L718.5 731.6 L716.8 732.6 L715.1 733.6 L713.3 734.6 L711.6 735.7 L709.9 736.7 L708.2 737.7 L706.5 738.7 L704.8 739.7 L703.1 740.7 L701.3 741.6 L699.6 742.6 L697.9 743.6 L696.1 744.6 L694.4 745.5 L692.6 746.5 L690.9 747.4 L689.1 748.4 L687.4 749.3 L685.6 750.3 L683.9 751.2 L682.1 752.1 L680.4 753.0 L678.6 754.0 L676.8 754.9 L675.0 755.8 L673.3 756.7 L671.5 757.6 L669.7 758.4 L667.9 759.3 L666.1 760.2 L664.3 761.1 L662.5 761.9 L660.7 762.8 L658.9 763.6 L657.1 764.5 L655.3 765.3 L653.5 766.2 L651.7 767.0 L649.9 767.8 L648.1 768.6 L646.3 769.4 L644.4 770.2 L642.6 771.0 L640.8 771.8 L639.0 772.6 L637.1 773.3 L635.3 774.1 L633.4 774.9 L631.6 775.6 L629.8 776.4 L627.9 777.1 L626.1 777.8 L624.2 778.6 L622.4 779.3 L620.5 780.0 L618.6 780.7 L616.8 781.4 L614.9 782.1 L613.0 782.8 L611.2 783.5 L609.3 784.1 L607.4 784.8 L605.5 785.4 L603.6 786.1 L601.8 786.7 L599.9 787.3 L598.0 788.0 L596.1 788.6 L594.2 789.2 L592.3 789.8 L590.4 790.4 L588.5 791.0 L586.6 791.5 L584.7 792.1 L582.8 792.7 L580.9 793.2 L579.0 793.7 L577.1 794.3 L575.2 794.8 L573.2 795.3 L571.3 795.8 L569.4 796.3 L567.5 796.8 L565.6 797.2 L563.6 797.7 L561.7 798.1 L559.8 798.6 L557.8 799.0 L555.9 799.4 L554.0 799.8 L552.1 800.2 L550.1 800.6 L548.2 801.0 L546.2 801.4 L544.3 801.7 L542.4 802.1 L540.4 802.4 L538.5 802.7 L536.5 803.0 L534.6 803.3 L532.6 803.6 L530.7 803.9 L528.7 804.1 L526.8 804.4 L524.8 804.6 L522.9 804.9 L520.9 805.1 L519.0 805.3 L517.0 805.5 L515.1 805.6 L513.1 805.8 L511.2 805.9 L509.2 806.1 L507.3 806.2 L505.3 806.3 L503.3 806.4 L501.4 806.5 L499.4 806.6 L497.5 806.6 L495.5 806.7 L493.5 806.7 L491.6 806.7 L489.6 806.7 L487.6 806.7 L485.7 806.7 L483.7 806.6 L481.7 806.6 L479.8 806.5 L477.8 806.4 L475.9 806.3 L473.9 806.2 L471.9 806.1 L470.0 805.9 L468.0 805.8 L466.0 805.6 L464.1 805.5 L462.1 805.3 L460.1 805.1 L458.2 804.9 L456.2 804.6 L454.2 804.4 L452.3 804.1 L450.3 803.9 L448.4 803.6 L446.4 803.3 L444.4 803.0 L442.5 802.7 L440.5 802.3 L438.6 802.0 L436.6 801.6 L434.7 801.3 L432.7 800.9 L430.8 800.5 L428.9 800.1 L426.9 799.7 L425.0 799.2 L423.0 798.8 L421.1 798.3 L419.2 797.9 L417.2 797.4 L415.3 796.9 L413.4 796.4 L411.5 795.9 L409.5 795.4 L407.6 794.8 L405.7 794.3 L403.8 793.7 L401.9 793.2 L400.0 792.6 L398.1 792.0 L396.2 791.4 L394.3 790.7 L392.4 790.1 L390.5 789.5 L388.7 788.8 L386.8 788.2 L384.9 787.5 L383.0 786.8 L381.2 786.1 L379.3 785.4 L377.5 784.7 L375.6 784.0 L373.8 783.2 L371.9 782.5 L370.1 781.7 L368.2 780.9 L366.4 780.1 L364.6 779.4 L362.8 778.5 L361.0 777.7 L359.2 776.9 L357.3 776.1 L355.6 775.2 L353.8 774.4 L352.0 773.5 L350.2 772.6 L348.4 771.7 L346.6 770.8 L344.9 769.9 L343.1 769.0 L341.4 768.1 L339.6 767.2 L337.9 766.2 L336.2 765.3 L334.4 764.3 L332.7 763.3 L331.0 762.3 L329.3 761.4 L327.6 760.4 L325.9 759.3 L324.2 758.3 L322.6 757.3 L320.9 756.2 L319.2 755.2 L317.6 754.1 L315.9 753.1 L314.3 752.0 L312.7 750.9 L311.1 749.8 L309.5 748.7 L307.9 747.6 L306.3 746.4 L304.7 745.3 L303.1 744.1 L301.5 742.9 L300.0 741.8 L298.5 740.6 L296.9 739.4 L295.4 738.2 L293.9 736.9 L292.4 735.7 L290.9 734.5 L289.4 733.2 L287.9 731.9 L286.5 730.7 L285.0 729.4 L283.6 728.1 L282.2 726.7 L280.7 725.4 L279.3 724.1 L277.9 722.7 L276.5 721.3 L275.1 720.0 L273.8 718.6 L272.4 717.2 L271.0 715.8 L269.7 714.4 L268.3 712.9 L267.0 711.5 L265.7 710.1 L264.4 708.6 L263.1 707.1 L261.8 705.7 L260.5 704.2 L259.2 702.7 L257.9 701.2 L256.6 699.7 L255.4 698.2 L254.1 696.6 L252.9 695.1 L251.6 693.6 L250.4 692.0 L249.2 690.4 L248.0 688.9 L246.8 687.3 L245.6 685.7 L244.4 684.1 L243.2 682.6 L242.0 680.9 L240.8 679.3 L239.7 677.7 L238.5 676.1 L237.3 674.5 L236.2 672.9 L235.1 671.2 L233.9 669.6 L232.8 667.9 L231.7 666.3 L230.6 664.6 L229.5 662.9 L228.4 661.3 L227.3 659.6 L226.2 657.9 L225.1 656.2 L224.1 654.6 L223.0 652.9 L222.0 651.2 L220.9 649.5 L219.9 647.8 L218.8 646.1 L217.8 644.3 L216.8 642.6 L215.8 640.9 L214.7 639.2 L213.7 637.5 L212.7 635.7 L211.7 634.0 L210.8 632.3 L209.8 630.6 L208.8 628.8 L207.8 627.1 L206.9 625.3 L205.9 623.6 L205.0 621.9 L204.0 620.1 L203.1 618.4 L202.1 616.6 L201.2 614.8 L200.3 613.1 L199.4 611.3 L198.4 609.6 L197.5 607.8 L196.6 606.0 L195.7 604.3 L194.8 602.5 L194.0 600.7 L193.1 598.9 L192.2 597.2 L191.3 595.4 L190.5 593.6 L189.6 591.8 L188.7 590.0 L187.9 588.2 L187.0 586.5 L186.2 584.7 L185.3 582.9 L184.5 581.1 L183.7 579.3 L182.9 577.5 L182.0 575.6 L181.2 573.8 L180.4 572.0 L179.6 570.2 L178.8 568.4 L178.0 566.6 L177.2 564.8 L176.4 562.9 L175.6 561.1 L174.9 559.3 L174.1 557.5 L173.3 555.6 L172.5 553.8 L171.8 552.0 L171.0 550.1 L170.2 548.3 L169.5 546.4 L168.7 544.6 L168.0 542.8 L167.2 540.9 L166.5 539.1 L165.8 537.2 L165.0 535.4 L164.3 533.5 L163.6 531.6 L162.8 529.8 L162.1 527.9 L161.4 526.1 L160.7 524.2 L160.0 522.3 L159.3 520.4 L158.6 518.6 L157.9 516.7 L157.2 514.8 L156.5 512.9 L155.8 511.1 L155.1 509.2 L154.4 507.3 L153.8 505.4 L153.1 503.5 L152.4 501.7 L151.8 499.8 L151.1 497.9 L150.5 496.0 L149.8 494.1 L149.2 492.2 L148.6 490.3 L148.0 488.4 L147.4 486.5 L146.8 484.6 L146.2 482.7 L145.6 480.8 L145.0 478.9 L144.4 477.0 L143.9 475.1 L143.3 473.2 L142.8 471.3 L142.3 469.4 L141.7 467.5 L141.2 465.6 L140.7 463.7 L140.2 461.8 L139.7 459.9 L139.3 458.0 L138.8 456.0 L138.4 454.1 L137.9 452.2 L137.5 450.3 L137.1 448.4 L136.7 446.4 L136.3 444.5 L135.9 442.6 L135.5 440.7 L135.2 438.8 L134.8 436.8 L134.5 434.9 L134.2 433.0 L133.9 431.0 L133.6 429.1 L133.3 427.2 L133.1 425.2 L132.8 423.3 L132.6 421.4 L132.4 419.4 L132.2 417.5 L132.0 415.6 L131.8 413.6 L131.7 411.7 L131.6 409.7 L131.4 407.8 L131.3 405.8 L131.2 403.9 L131.2 402.0 L131.1 400.0 Z" fill="#9e5252"/>
<path d="M257.2 715.1 L258.6 716.5 L259.9 718.0 L261.3 719.5 L262.7 721.0 L264.1 722.5 L265.5 723.9 L266.9 725.3 L268.4 726.8 L269.8 728.2 L271.2 729.6 L272.7 731.0 L274.2 732.4 L275.6 733.8 L277.1 735.1 L278.6 736.5 L280.1 737.8 L281.6 739.2 L283.2 740.5 L284.7 741.8 L286.3 743.1 L287.8 744.4 L289.4 745.7 L291.0 746.9 L292.6 748.2 L294.2 749.4 L295.8 750.6 L297.4 751.8 L299.0 753.0 L300.7 754.2 L302.3 755.4 L304.0 756.5 L305.7 757.7 L307.3 758.8 L309.0 759.9 L310.7 761.1 L312.4 762.2 L314.1 763.3 L315.8 764.3 L317.5 765.4 L319.3 766.5 L321.0 767.5 L322.7 768.6 L324.5 769.6 L326.2 770.6 L328.0 771.6 L329.8 772.6 L331.5 773.6 L333.3 774.6 L335.1 775.6 L336.9 776.5 L338.7 777.5 L340.5 778.4 L342.3 779.3 L344.1 780.3 L346.0 781.2 L347.8 782.1 L349.6 783.0 L351.5 783.8 L353.3 784.7 L355.2 785.6 L357.0 786.4 L358.9 787.2 L360.8 788.1 L362.7 788.9 L364.5 789.7 L366.4 790.5 L368.3 791.3 L370.2 792.0 L372.1 792.8 L374.0 793.5 L375.9 794.3 L377.8 795.0 L379.7 795.7 L381.7 796.4 L383.6 797.1 L385.5 797.8 L387.5 798.5 L389.4 799.1 L391.3 799.8 L393.3 800.4 L395.2 801.0 L397.2 801.6 L399.2 802.2 L401.1 802.8 L403.1 803.4" fill="none" stroke="#e2baba" stroke-width="1.4" stroke-linecap="round" stroke-linejoin="round" opacity="0.9"/>
<path d="M735.5 727 L742 722.5" stroke="#d4d0cc" stroke-width="5"/>
<g transform="translate(754 719) rotate(-25.5)"><rect x="-12" y="-6.2" width="24" height="12.4" rx="3.5" fill="#984c4c"/></g>
<path d="M664.8 592.8 L672 576" stroke="#c4bcb4" stroke-width="1.6"/>
<path d="M668 546 L673 532" stroke="#c4bcb4" stroke-width="1.6"/>
<path d="M659.4 545 L659.4 530" stroke="#c4bcb4" stroke-width="1.6"/>
<path d="M684 646 L693.5 636" stroke="#d0d0d0" stroke-width="1.6"/>
<path d="M691.5 730 L703.5 720.5" stroke="#b8b8b8" stroke-width="1.3"/>
<path d="M258.9 450.0 L259.0 452.1 L259.1 454.1 L259.3 456.1 L259.4 458.2 L259.6 460.2 L259.7 462.2 L259.9 464.2 L260.1 466.2 L260.4 468.2 L260.6 470.2 L260.8 472.2 L261.1 474.2 L261.4 476.2 L261.7 478.2 L262.0 480.2 L262.3 482.1 L262.7 484.1 L263.0 486.1 L263.4 488.0 L263.7 490.0 L264.1 491.9 L264.5 493.9 L265.0 495.8 L265.4 497.7 L265.8 499.7 L266.3 501.6 L266.7 503.5 L267.2 505.4 L267.7 507.3 L268.2 509.2 L268.7 511.2 L269.3 513.1 L269.8 515.0 L270.3 516.8 L270.9 518.7 L271.5 520.6 L272.1 522.5 L272.7 524.4 L273.3 526.3 L273.9 528.2 L274.5 530.0 L275.1 531.9 L275.8 533.8 L276.4 535.6 L277.1 537.5 L277.8 539.3 L278.4 541.2 L279.1 543.1 L279.8 544.9 L280.5 546.8 L281.3 548.6 L282.0 550.4 L282.7 552.3 L283.5 554.1 L284.2 556.0 L285.0 557.8 L285.7 559.6 L286.5 561.5 L287.3 563.3 L288.1 565.1 L288.9 566.9 L289.7 568.8 L290.5 570.6 L291.3 572.4 L292.2 574.2 L293.0 576.0 L293.8 577.8 L294.7 579.7 L295.5 581.5 L296.4 583.3 L297.2 585.1 L298.1 586.9 L299.0 588.7 L299.9 590.5 L300.7 592.3 L301.6 594.1 L302.5 595.9 L303.4 597.7 L304.3 599.6 L305.2 601.4 L306.1 603.2 L307.1 605.0 L308.0 606.8 L308.9 608.6 L309.8 610.4 L310.8 612.2 L311.7 614.0 L312.6 615.8 L313.6 617.6 L314.5 619.4 L315.5 621.2 L316.4 623.0 L317.4 624.8 L318.3 626.6 L319.3 628.4 L320.3 630.1 L321.3 631.9 L322.3 633.7 L323.2 635.5 L324.2 637.3 L325.2 639.0 L326.3 640.8 L327.3 642.6 L328.3 644.3 L329.3 646.1 L330.4 647.8 L331.4 649.6 L332.5 651.3 L333.6 653.0 L334.6 654.7 L335.7 656.5 L336.8 658.2 L337.9 659.9 L339.0 661.6 L340.1 663.2 L341.3 664.9 L342.4 666.6 L343.6 668.2 L344.7 669.9 L345.9 671.5 L347.1 673.2 L348.3 674.8 L349.5 676.4 L350.7 678.0 L351.9 679.6 L353.2 681.2 L354.4 682.7 L355.7 684.3 L357.0 685.8 L358.2 687.4 L359.5 688.9 L360.9 690.4 L362.2 691.9 L363.5 693.4 L364.9 694.9 L366.2 696.3 L367.6 697.8 L369.0 699.2 L370.4 700.6 L371.8 702.0 L373.2 703.4 L374.7 704.8 L376.1 706.1 L377.6 707.5 L379.1 708.8 L380.5 710.1 L382.0 711.4 L383.5 712.6 L385.1 713.9 L386.6 715.1 L388.1 716.4 L389.7 717.6 L391.3 718.7 L392.8 719.9 L394.4 721.1 L396.0 722.2 L397.6 723.3 L399.3 724.4 L400.9 725.5 L402.5 726.5 L404.2 727.6 L405.9 728.6 L407.5 729.6 L409.2 730.6 L410.9 731.5 L412.6 732.5 L414.3 733.4 L416.0 734.3 L417.8 735.2 L419.5 736.1 L421.3 737.0 L423.0 737.8 L424.8 738.7 L426.6 739.5 L428.4 740.3 L430.2 741.1 L432.0 741.8 L433.8 742.6 L435.6 743.3 L437.4 744.1 L439.3 744.8 L441.1 745.4 L443.0 746.1 L444.8 746.8 L446.7 747.4 L448.6 748.0 L450.4 748.6 L452.3 749.2 L454.2 749.8 L456.1 750.4 L458.0 750.9 L459.9 751.4 L461.9 751.9 L463.8 752.4 L465.7 752.9 L467.6 753.4 L469.6 753.8 L471.5 754.3 L473.5 754.7 L475.4 755.1 L477.4 755.5 L479.4 755.9 L481.4 756.3 L483.3 756.6 L485.3 756.9 L487.3 757.3 L489.3 757.6 L491.3 757.9 L493.3 758.2 L495.3 758.4 L497.3 758.7 L499.3 758.9 L501.3 759.1 L503.3 759.4 L505.4 759.6 L507.4 759.7 L509.4 759.9 L511.4 760.1 L513.5 760.2 L515.5 760.4 L517.5 760.5 L519.6 760.6 L521.6 760.7 L523.7 760.8 L525.7 760.8 L527.8 760.9 L529.8 760.9 L531.9 761.0 L533.9 761.0 L536.0 761.0 L538.0 761.0 L540.1 761.0 L542.1 760.9 L544.2 760.9 L546.2 760.8 L548.3 760.8 L550.3 760.7 L552.4 760.6 L554.5 760.5 L556.5 760.4 L558.6 760.3 L560.6 760.1 L562.7 760.0 L564.7 759.8 L566.8 759.7 L568.8 759.5 L570.9 759.3 L572.9 759.1 L575.0 758.9 L577.0 758.7 L579.1 758.4 L581.1 758.2 L583.2 757.9 L585.2 757.7 L587.3 757.4 L589.3 757.1 L591.3 756.8 L593.4 756.5 L595.4 756.2 L597.4 755.9 L599.4 755.5 L601.4 755.2 L603.5 754.8 L605.5 754.5 L607.5 754.1 L609.5 753.7 L611.5 753.3 L613.5 752.9 L615.5 752.5 L617.5 752.1 L619.4 751.7 L621.4 751.2 L623.4 750.8 L625.4 750.3 L627.3 749.9 L629.3 749.4 L631.2 748.9 L633.2 748.4 L635.1 747.9 L637.1 747.4 L639.0 746.9 L640.9 746.4 L642.9 745.9 L644.8 745.3 L646.7 744.8 L648.6 744.2 L650.5 743.7 L652.4 743.1 L654.2 742.5 L656.1 741.9 L658.0 741.3 L659.8 740.7 L661.7 740.1 L663.5 739.5 L665.4 738.9 L667.2 738.3 L669.0 737.6 L670.8 737.0 L672.7 736.4 L674.5 735.7 L676.2 735.0 L678.0 734.4 L679.8 733.7 L681.6 733.0 L683.3 732.3 L685.1 731.6 L686.8 730.9 L688.5 730.2 L690.2 729.5" fill="none" stroke="#b4a422" stroke-width="4.6" stroke-linecap="butt" stroke-linejoin="round" />
<path d="M258.9 450.0 L259.0 452.1 L259.1 454.1 L259.3 456.1 L259.4 458.2 L259.6 460.2 L259.7 462.2 L259.9 464.2 L260.1 466.2 L260.4 468.2 L260.6 470.2 L260.8 472.2 L261.1 474.2 L261.4 476.2 L261.7 478.2 L262.0 480.2 L262.3 482.1 L262.7 484.1 L263.0 486.1 L263.4 488.0 L263.7 490.0 L264.1 491.9 L264.5 493.9 L265.0 495.8 L265.4 497.7 L265.8 499.7 L266.3 501.6 L266.7 503.5 L267.2 505.4 L267.7 507.3 L268.2 509.2 L268.7 511.2 L269.3 513.1 L269.8 515.0 L270.3 516.8 L270.9 518.7 L271.5 520.6 L272.1 522.5 L272.7 524.4 L273.3 526.3 L273.9 528.2 L274.5 530.0 L275.1 531.9 L275.8 533.8 L276.4 535.6 L277.1 537.5 L277.8 539.3 L278.4 541.2 L279.1 543.1 L279.8 544.9 L280.5 546.8 L281.3 548.6 L282.0 550.4 L282.7 552.3 L283.5 554.1 L284.2 556.0 L285.0 557.8 L285.7 559.6 L286.5 561.5 L287.3 563.3 L288.1 565.1 L288.9 566.9 L289.7 568.8 L290.5 570.6 L291.3 572.4 L292.2 574.2 L293.0 576.0 L293.8 577.8 L294.7 579.7 L295.5 581.5 L296.4 583.3 L297.2 585.1 L298.1 586.9 L299.0 588.7 L299.9 590.5 L300.7 592.3 L301.6 594.1 L302.5 595.9 L303.4 597.7 L304.3 599.6 L305.2 601.4 L306.1 603.2 L307.1 605.0 L308.0 606.8 L308.9 608.6 L309.8 610.4 L310.8 612.2 L311.7 614.0 L312.6 615.8 L313.6 617.6 L314.5 619.4 L315.5 621.2 L316.4 623.0 L317.4 624.8 L318.3 626.6 L319.3 628.4 L320.3 630.1 L321.3 631.9 L322.3 633.7 L323.2 635.5 L324.2 637.3 L325.2 639.0 L326.3 640.8 L327.3 642.6 L328.3 644.3 L329.3 646.1 L330.4 647.8 L331.4 649.6 L332.5 651.3 L333.6 653.0 L334.6 654.7 L335.7 656.5 L336.8 658.2 L337.9 659.9 L339.0 661.6 L340.1 663.2 L341.3 664.9 L342.4 666.6 L343.6 668.2 L344.7 669.9 L345.9 671.5 L347.1 673.2 L348.3 674.8 L349.5 676.4 L350.7 678.0 L351.9 679.6 L353.2 681.2 L354.4 682.7 L355.7 684.3 L357.0 685.8 L358.2 687.4 L359.5 688.9 L360.9 690.4 L362.2 691.9 L363.5 693.4 L364.9 694.9 L366.2 696.3 L367.6 697.8 L369.0 699.2 L370.4 700.6 L371.8 702.0 L373.2 703.4 L374.7 704.8 L376.1 706.1 L377.6 707.5 L379.1 708.8 L380.5 710.1 L382.0 711.4 L383.5 712.6 L385.1 713.9 L386.6 715.1 L388.1 716.4 L389.7 717.6 L391.3 718.7 L392.8 719.9 L394.4 721.1 L396.0 722.2 L397.6 723.3 L399.3 724.4 L400.9 725.5 L402.5 726.5 L404.2 727.6 L405.9 728.6 L407.5 729.6 L409.2 730.6 L410.9 731.5 L412.6 732.5 L414.3 733.4 L416.0 734.3 L417.8 735.2 L419.5 736.1 L421.3 737.0 L423.0 737.8 L424.8 738.7 L426.6 739.5 L428.4 740.3 L430.2 741.1 L432.0 741.8 L433.8 742.6 L435.6 743.3 L437.4 744.1 L439.3 744.8 L441.1 745.4 L443.0 746.1 L444.8 746.8 L446.7 747.4 L448.6 748.0 L450.4 748.6 L452.3 749.2 L454.2 749.8 L456.1 750.4 L458.0 750.9 L459.9 751.4 L461.9 751.9 L463.8 752.4 L465.7 752.9 L467.6 753.4 L469.6 753.8 L471.5 754.3 L473.5 754.7 L475.4 755.1 L477.4 755.5 L479.4 755.9 L481.4 756.3 L483.3 756.6 L485.3 756.9 L487.3 757.3 L489.3 757.6 L491.3 757.9 L493.3 758.2 L495.3 758.4 L497.3 758.7 L499.3 758.9 L501.3 759.1 L503.3 759.4 L505.4 759.6 L507.4 759.7 L509.4 759.9 L511.4 760.1 L513.5 760.2 L515.5 760.4 L517.5 760.5 L519.6 760.6 L521.6 760.7 L523.7 760.8 L525.7 760.8 L527.8 760.9 L529.8 760.9 L531.9 761.0 L533.9 761.0 L536.0 761.0 L538.0 761.0 L540.1 761.0 L542.1 760.9 L544.2 760.9 L546.2 760.8 L548.3 760.8 L550.3 760.7 L552.4 760.6 L554.5 760.5 L556.5 760.4 L558.6 760.3 L560.6 760.1 L562.7 760.0 L564.7 759.8 L566.8 759.7 L568.8 759.5 L570.9 759.3 L572.9 759.1 L575.0 758.9 L577.0 758.7 L579.1 758.4 L581.1 758.2 L583.2 757.9 L585.2 757.7 L587.3 757.4 L589.3 757.1 L591.3 756.8 L593.4 756.5 L595.4 756.2 L597.4 755.9 L599.4 755.5 L601.4 755.2 L603.5 754.8 L605.5 754.5 L607.5 754.1 L609.5 753.7 L611.5 753.3 L613.5 752.9 L615.5 752.5 L617.5 752.1 L619.4 751.7 L621.4 751.2 L623.4 750.8 L625.4 750.3 L627.3 749.9 L629.3 749.4 L631.2 748.9 L633.2 748.4 L635.1 747.9 L637.1 747.4 L639.0 746.9 L640.9 746.4 L642.9 745.9 L644.8 745.3 L646.7 744.8 L648.6 744.2 L650.5 743.7 L652.4 743.1 L654.2 742.5 L656.1 741.9 L658.0 741.3 L659.8 740.7 L661.7 740.1 L663.5 739.5 L665.4 738.9 L667.2 738.3 L669.0 737.6 L670.8 737.0 L672.7 736.4 L674.5 735.7 L676.2 735.0 L678.0 734.4 L679.8 733.7 L681.6 733.0 L683.3 732.3 L685.1 731.6 L686.8 730.9 L688.5 730.2 L690.2 729.5" fill="none" stroke="#cebe3c" stroke-width="2.4" stroke-linecap="butt" stroke-linejoin="round" />
<path d="M268.1 402.9 L267.7 405.0 L267.3 407.0 L266.9 409.1 L266.6 411.1 L266.3 413.1 L266.0 415.2 L265.7 417.2 L265.4 419.2 L265.2 421.3 L265.0 423.3 L264.8 425.3 L264.7 427.3 L264.5 429.3 L264.4 431.4 L264.4 433.4 L264.3 435.3 L264.3 437.3 L264.3 439.3 L264.3 441.3 L264.4 443.3 L264.5 445.2 L264.6 447.2 L264.8 449.1 L264.9 451.0 L265.2 453.0 L265.4 454.9 L265.7 456.8 L266.0 458.7 L266.3 460.6 L266.6 462.6 L267.0 464.5 L267.3 466.4 L267.7 468.3 L268.1 470.2 L268.6 472.1 L269.0 474.0 L269.5 475.9 L269.9 477.8 L270.4 479.7 L270.9 481.6 L271.4 483.5 L271.9 485.4 L272.4 487.3 L273.0 489.2 L273.5 491.1 L274.1 493.0 L274.7 495.0 L275.2 496.9 L275.8 498.8 L276.4 500.7 L277.0 502.6 L277.7 504.5 L278.3 506.4 L279.0 508.3 L279.6 510.2 L280.3 512.1 L281.0 514.0 L281.7 515.9 L282.4 517.8 L283.1 519.7 L283.9 521.6 L284.6 523.4 L285.4 525.3 L286.2 527.2 L287.0 529.0 L287.8 530.9 L288.6 532.7 L289.5 534.5 L290.3 536.4 L291.2 538.2 L292.1 540.0 L293.0 541.8 L293.9 543.6 L294.8 545.4 L295.7 547.1 L296.7 548.9 L297.7 550.6 L298.7 552.4 L299.7 554.1 L300.7 555.8 L301.7 557.5 L302.7 559.2 L303.8 560.9 L304.8 562.6 L305.9 564.3 L307.0 566.0 L308.1 567.7 L309.2 569.3 L310.3 571.0 L311.4 572.7 L312.5 574.3 L313.6 576.0 L314.7 577.6 L315.8 579.3 L317.0 580.9 L318.1 582.6 L319.2 584.2 L320.4 585.9 L321.5 587.5 L322.6 589.2 L323.8 590.9 L324.9 592.5 L326.0 594.2 L327.2 595.8 L328.3 597.5 L329.4 599.2 L330.5 600.9 L331.6 602.5 L332.7 604.2 L333.8 605.9 L334.9 607.6 L336.0 609.3 L337.1 611.0 L338.2 612.8 L339.3 614.5 L340.3 616.2 L341.4 617.9 L342.5 619.7 L343.5 621.4 L344.6 623.1 L345.7 624.8 L346.8 626.6 L347.8 628.3 L348.9 630.0 L350.0 631.7 L351.1 633.5 L352.1 635.2 L353.2 636.9 L354.3 638.6 L355.4 640.3 L356.6 641.9 L357.7 643.6 L358.8 645.3 L360.0 646.9 L361.1 648.6 L362.3 650.2 L363.5 651.9 L364.7 653.5 L365.9 655.1 L367.1 656.6 L368.3 658.2 L369.6 659.8 L370.9 661.3 L372.2 662.8 L373.5 664.3 L374.8 665.8 L376.1 667.3 L377.5 668.7 L378.9 670.1 L380.3 671.5 L381.7 672.9 L383.2 674.3 L384.6 675.6 L386.1 676.9 L387.6 678.2 L389.1 679.5 L390.7 680.8 L392.2 682.0 L393.8 683.2 L395.4 684.4 L397.0 685.6 L398.6 686.7 L400.3 687.8 L401.9 688.9 L403.6 690.0 L405.3 691.1 L407.0 692.1 L408.7 693.1 L410.4 694.1 L412.2 695.0 L413.9 696.0 L415.7 696.9 L417.5 697.7 L419.3 698.6 L421.1 699.4 L423.0 700.2 L424.8 701.0 L426.6 701.7 L428.5 702.5 L430.4 703.1 L432.3 703.8 L434.2 704.4 L436.1 705.1 L438.0 705.6 L440.0 706.2 L441.9 706.7 L443.9 707.2 L445.8 707.7 L447.8 708.1 L449.8 708.5 L451.8 708.9 L453.8 709.3 L455.8 709.6 L457.8 709.9 L459.8 710.2 L461.8 710.5 L463.9 710.7 L465.9 710.9 L467.9 711.1 L469.9 711.2 L472.0 711.3 L474.0 711.4 L476.1 711.5 L478.1 711.5 L480.1 711.5 L482.2 711.5 L484.2 711.5 L486.3 711.4 L488.3 711.4 L490.3 711.3 L492.4 711.1 L494.4 711.0 L496.4 710.8 L498.5 710.6 L500.5 710.3 L502.5 710.1 L504.5 709.8 L506.5 709.5 L508.5 709.2 L510.5 708.8 L512.4 708.4 L514.4 708.0 L516.4 707.6 L518.3 707.2 L520.2 706.7 L522.2 706.2 L524.1 705.7 L526.0 705.1 L527.9 704.6 L529.8 704.0 L531.7 703.4 L533.6 702.7 L535.5 702.1 L537.3 701.4 L539.2 700.7 L541.0 700.0 L542.8 699.3 L544.7 698.5 L546.5 697.7 L548.3 696.9 L550.1 696.1 L551.9 695.3 L553.6 694.4 L555.4 693.5 L557.2 692.6 L558.9 691.7 L560.7 690.7 L562.4 689.8 L564.1 688.8 L565.8 687.8 L567.5 686.8 L569.2 685.7 L570.9 684.6 L572.5 683.6 L574.2 682.5 L575.9 681.4 L577.5 680.2 L579.1 679.1 L580.7 677.9 L582.4 676.7 L584.0 675.5 L585.5 674.3 L587.1 673.0 L588.7 671.8 L590.2 670.5 L591.8 669.2 L593.3 667.9 L594.8 666.6 L596.4 665.2 L597.9 663.9 L599.3 662.5 L600.8 661.1 L602.3 659.7 L603.7 658.3 L605.1 656.8 L606.6 655.4 L608.0 653.9 L609.4 652.5 L610.7 651.0 L612.1 649.5 L613.4 647.9 L614.8 646.4 L616.1 644.9 L617.4 643.3 L618.7 641.7 L619.9 640.1 L621.2 638.5 L622.4 636.9 L623.7 635.3 L624.9 633.7 L626.1 632.0 L627.2 630.4 L628.4 628.7 L629.5 627.0 L630.6 625.3 L631.7 623.6 L632.8 621.9 L633.9 620.2 L634.9 618.5 L636.0 616.7 L637.0 615.0 L638.0 613.2 L638.9 611.5 L639.9 609.7 L640.8 607.9 L641.7 606.1 L642.6 604.3 L643.5 602.5 L644.3 600.7 L645.2 598.8 L646.0 597.0 L646.8 595.2 L647.5 593.3 L648.3 591.5 L649.0 589.6 L649.7 587.7 L650.4 585.8 L651.0 584.0 L651.7 582.1 L652.3 580.2 L652.9 578.3 L653.4 576.4 L654.0 574.5 L654.5 572.6 L655.0 570.6 L655.4 568.7 L655.9 566.8 L656.3 564.8 L656.7 562.9 L657.0 561.0 L657.4 559.0 L657.7 557.1 L658.0 555.1 L658.3 553.2 L658.5 551.2 L658.7 549.3 L658.9 547.3 L659.0 545.3" fill="none" stroke="#2a2020" stroke-width="5.5" stroke-linecap="butt" stroke-linejoin="round" />
<path d="M286.8 541.4 L287.3 543.5 L287.8 545.5 L288.3 547.5 L288.9 549.5 L289.4 551.5 L290.0 553.5 L290.6 555.5 L291.2 557.5 L291.8 559.5 L292.4 561.5 L293.0 563.6 L294.1 565.3 L295.1 567.1 L296.2 568.8 L297.3 570.6 L298.3 572.3 L299.4 574.0 L300.5 575.8 L301.6 577.5 L302.7 579.2 L303.8 580.9 L304.9 582.6 L306.0 584.3 L307.1 586.0 L308.2 587.7 L309.3 589.4 L310.4 591.0 L311.5 592.7 L312.6 594.4 L313.8 596.0 L314.9 597.7 L316.0 599.4 L317.1 601.0 L318.3 602.7 L319.4 604.3 L320.5 606.0 L321.7 607.6 L322.8 609.3 L323.9 610.9 L325.1 612.6 L326.2 614.2 L327.4 615.9 L328.5 617.5 L329.6 619.2 L330.8 620.8 L331.9 622.5 L333.1 624.1 L334.2 625.8 L335.4 627.4 L336.5 629.1 L337.7 630.7 L338.8 632.4 L340.0 634.1 L341.1 635.7 L342.3 637.4 L343.5 639.1 L344.6 640.8 L345.8 642.4 L347.0 644.1 L348.3 645.8 L349.5 647.5 L350.8 649.1 L352.0 650.8 L353.3 652.4 L354.7 654.0 L356.0 655.6 L357.4 657.2 L358.8 658.7 L360.2 660.2 L361.7 661.7 L363.2 663.2 L364.7 664.6 L366.2 666.1 L367.7 667.5 L369.3 668.8 L370.9 670.2 L372.5 671.5 L374.1 672.8 L375.7 674.0 L377.4 675.3 L379.1 676.5 L380.8 677.7 L382.5 678.8 L384.2 680.0 L385.9 681.1 L387.7 682.2 L389.5 683.2 L391.3 684.3 L393.1 685.3 L394.9 686.3 L396.7 687.2 L398.5 688.2 L400.4 689.1 L402.3 690.0 L404.1 690.8 L406.0 691.7 L407.9 692.5 L409.8 693.3 L411.7 694.1 L413.7 694.8 L415.6 695.5 L417.5 696.2 L419.5 696.9 L421.5 697.6 L423.4 698.2 L425.4 698.8 L427.4 699.4 L429.4 700.0 L431.4 700.5 L433.4 701.0 L435.4 701.5 L437.4 702.0 L439.4 702.5 L441.4 702.9 L443.4 703.3 L445.5 703.7 L447.5 704.0 L449.6 704.4 L451.6 704.7 L453.6 705.0 L455.7 705.3 L457.8 705.5 L459.8 705.7 L461.9 705.9 L463.9 706.1 L466.0 706.3 L468.1 706.4 L470.1 706.5 L472.2 706.6 L474.3 706.7 L476.4 706.8 L478.4 706.8 L480.5 706.8 L482.6 706.8 L484.7 706.8 L486.7 706.7 L488.8 706.6 L490.9 706.5 L493.0 706.4 L495.0 706.3 L497.1 706.1 L499.2 705.9 L501.2 705.7 L503.3 705.5 L505.4 705.2 L507.4 705.0 L509.5 704.7 L511.5 704.4 L513.6 704.0 L515.6 703.7 L517.7 703.3 L519.7 702.9 L521.7 702.5 L523.8 702.0 L525.8 701.6 L527.8 701.1 L529.8 700.6 L531.8 700.1 L533.8 699.5 L535.8 699.0 L537.8 698.4 L539.8 697.8 L541.7 697.2 L543.7 696.5 L545.7 695.9 L547.6 695.2 L549.6 694.5 L551.5 693.7 L553.4 693.0 L555.3 692.2 L557.3 691.4 L559.2 690.6 L561.0 689.8 L562.9 688.9 L564.8 688.1 L566.7 687.2 L568.5 686.3 L570.3 685.3 L572.2 684.4 L574.0 683.4 L575.8 682.4 L577.6 681.4 L579.4 680.4 L581.1 679.3 L582.9 678.3 L584.6 677.2 L586.4 676.1" fill="none" stroke="#8e2a36" stroke-width="6" stroke-linecap="butt" stroke-linejoin="round" />
<path d="M266.7 403.0 L266.4 405.0 L266.1 407.0 L265.9 409.0 L265.6 411.0 L265.4 413.0 L265.2 415.0 L264.9 417.0 L264.7 419.0 L264.6 421.0 L264.4 423.1 L264.2 425.1 L264.1 427.1 L264.0 429.1 L263.9 431.1 L263.8 433.1 L263.7 435.1 L263.6 437.2 L263.6 439.2 L263.5 441.2 L263.5 443.2 L263.5 445.2 L263.5 447.2 L263.6 449.2 L263.6 451.2 L263.7 453.2 L263.8 455.3 L263.9 457.3 L264.0 459.3 L264.1 461.3 L264.2 463.3 L264.4 465.3 L264.6 467.2 L264.8 469.2 L265.0 471.2 L265.3 473.2 L265.5 475.2 L265.8 477.2 L266.1 479.1 L266.4 481.1 L266.7 483.1 L267.1 485.0 L267.5 487.0 L267.8 488.9 L268.3 490.9 L268.7 492.8 L269.1 494.8 L269.6 496.7 L270.1 498.6 L270.6 500.6 L271.2 502.5 L271.7 504.4 L272.3 506.3 L272.9 508.2 L273.5 510.1 L274.2 512.0 L274.8 513.9 L275.5 515.7 L276.2 517.6 L276.9 519.5 L277.6 521.3 L278.4 523.2 L279.2 525.0 L279.9 526.9 L280.8 528.7 L281.6 530.6 L282.4 532.4 L283.3 534.2 L284.1 536.0 L285.0 537.8 L285.9 539.6 L286.8 541.4 L287.7 543.2 L288.6 545.0 L289.6 546.8 L290.5 548.6 L291.5 550.4 L292.5 552.1 L293.5 553.9 L294.5 555.7 L295.5 557.4 L296.5 559.2 L297.5 560.9 L298.5 562.6 L299.6 564.4 L300.6 566.1 L301.7 567.8 L302.8 569.6 L303.8 571.3 L304.9 573.0 L306.0 574.7 L307.1 576.4 L308.1 578.1 L309.2 579.8 L310.3 581.5 L311.4 583.1 L312.5 584.8 L313.6 586.5 L314.7 588.2 L315.9 589.8 L317.0 591.5 L318.1 593.1 L319.2 594.8 L320.3 596.5 L321.4 598.1 L322.6 599.8 L323.7 601.4 L324.8 603.1 L326.0 604.7 L327.1 606.3 L328.2 608.0 L329.4 609.6 L330.5 611.3 L331.6 612.9 L332.8 614.6 L333.9 616.2 L335.1 617.9 L336.2 619.5 L337.3 621.2 L338.5 622.8 L339.6 624.5 L340.8 626.1 L341.9 627.8 L343.1 629.4 L344.2 631.1 L345.4 632.8 L346.6 634.4 L347.7 636.1 L348.9 637.8 L350.1 639.4 L351.2 641.1 L352.4 642.7 L353.6 644.3 L354.9 645.9 L356.1 647.5 L357.4 649.1 L358.7 650.7 L360.0 652.2 L361.3 653.7 L362.6 655.2 L364.0 656.6 L365.4 658.1 L366.8 659.5 L368.3 660.9 L369.7 662.2 L371.2 663.6 L372.7 664.9 L374.2 666.2 L375.8 667.4 L377.3 668.7 L378.9 669.9 L380.5 671.1 L382.1 672.2 L383.7 673.4 L385.4 674.5 L387.0 675.6 L388.7 676.7 L390.4 677.7 L392.1 678.7 L393.8 679.7 L395.6 680.7 L397.3 681.7 L399.1 682.6 L400.9 683.5 L402.7 684.4 L404.5 685.3 L406.3 686.1 L408.1 686.9 L410.0 687.7 L411.8 688.5 L413.7 689.2 L415.5 690.0 L417.4 690.7 L419.3 691.3 L421.2 692.0 L423.1 692.6 L425.0 693.3 L426.9 693.8 L428.8 694.4 L430.8 695.0 L432.7 695.5 L434.6 696.0 L436.6 696.5 L438.5 696.9 L440.5 697.4 L442.5 697.8 L444.4 698.2 L446.4 698.6 L448.4 698.9 L450.4 699.2 L452.4 699.5 L454.4 699.8 L456.4 700.1 L458.4 700.3 L460.4 700.6 L462.4 700.8 L464.4 700.9 L466.4 701.1 L468.4 701.2 L470.4 701.4 L472.4 701.4 L474.4 701.5 L476.5 701.6 L478.5 701.6 L480.5 701.6 L482.5 701.6 L484.5 701.6 L486.6 701.5 L488.6 701.4 L490.6 701.3 L492.6 701.2 L494.6 701.1 L496.7 700.9 L498.7 700.7 L500.7 700.5 L502.7 700.3 L504.7 700.1 L506.7 699.8 L508.7 699.5 L510.7 699.2 L512.7 698.9 L514.7 698.6 L516.7 698.2 L518.7 697.8 L520.7 697.4 L522.6 697.0 L524.6 696.5 L526.6 696.1 L528.5 695.6 L530.5 695.1 L532.4 694.5 L534.4 694.0 L536.3 693.4 L538.2 692.8 L540.2 692.2 L542.1 691.6 L544.0 690.9 L545.9 690.3 L547.8 689.6 L549.6 688.9 L551.5 688.1 L553.4 687.4 L555.2 686.6 L557.1 685.8 L558.9 685.0 L560.8 684.2 L562.6 683.4 L564.4 682.5 L566.2 681.6 L568.0 680.7 L569.7 679.8 L571.5 678.8 L573.3 677.9 L575.0 676.9 L576.7 675.9 L578.5 674.9 L580.2 673.8 L581.9 672.8 L583.5 671.7 L585.2 670.6 L586.9 669.5 L588.5 668.4 L590.1 667.2 L591.7 666.0 L593.3 664.8 L594.9 663.6 L596.5 662.4 L598.0 661.1 L599.6 659.9 L601.1 658.6 L602.6 657.3 L604.1 656.0 L605.5 654.6 L607.0 653.3 L608.4 651.9 L609.9 650.5 L611.3 649.1 L612.6 647.6 L614.0 646.2 L615.4 644.7 L616.7 643.2 L618.0 641.7 L619.3 640.2 L620.6 638.7 L621.9 637.1 L623.1 635.6 L624.4 634.0 L625.6 632.4 L626.8 630.8 L628.0 629.2 L629.1 627.5 L630.3 625.9 L631.4 624.2 L632.6 622.5 L633.7 620.9 L634.8 619.2 L635.8 617.4 L636.9 615.7 L638.0 614.0 L639.0 612.3 L640.0 610.5 L641.0 608.8 L642.0 607.0 L643.0 605.2 L644.0 603.4 L644.9 601.6 L645.8 599.8 L646.8 598.0 L647.7 596.2 L648.6 594.4 L649.5 592.6 L650.3 590.7 L651.2 588.9 L652.0 587.1 L652.9 585.2 L653.7 583.4 L654.5 581.5 L655.3 579.7 L656.1 577.8 L656.9 575.9 L657.6 574.1 L658.4 572.2 L659.1 570.3 L659.9 568.5 L660.6 566.6 L661.3 564.7 L662.0 562.9 L662.7 561.0 L663.3 559.1 L664.0 557.2 L664.6 555.4 L665.3 553.5 L665.9 551.6 L666.5 549.8 L667.2 547.9 L667.8 546.1" fill="none" stroke="#c0485a" stroke-width="6" stroke-linecap="butt" stroke-linejoin="round" />
<path d="M265.9 402.9 L265.6 404.9 L265.3 406.9 L265.1 408.9 L264.8 410.9 L264.6 412.9 L264.4 414.9 L264.1 416.9 L263.9 419.0 L263.8 421.0 L263.6 423.0 L263.4 425.0 L263.3 427.0 L263.2 429.1 L263.1 431.1 L263.0 433.1 L262.9 435.1 L262.8 437.1 L262.8 439.2 L262.7 441.2 L262.7 443.2 L262.7 445.2 L262.7 447.2 L262.8 449.2 L262.8 451.3 L262.9 453.3 L263.0 455.3 L263.1 457.3 L263.2 459.3 L263.3 461.3 L263.4 463.3 L263.6 465.3 L263.8 467.3 L264.0 469.3 L264.2 471.3 L264.5 473.3 L264.7 475.3 L265.0 477.3 L265.3 479.3 L265.6 481.2 L265.9 483.2 L266.3 485.2 L266.7 487.1 L267.1 489.1 L267.5 491.1 L267.9 493.0 L268.4 495.0 L268.8 496.9 L269.3 498.8 L269.9 500.8 L270.4 502.7 L271.0 504.6 L271.5 506.5 L272.1 508.4 L272.8 510.3 L273.4 512.2 L274.1 514.1 L274.7 516.0 L275.4 517.9 L276.2 519.8 L276.9 521.6 L277.7 523.5 L278.4 525.4 L279.2 527.2 L280.0 529.1 L280.8 530.9 L281.7 532.7 L282.5 534.6 L283.4 536.4 L284.3 538.2 L285.2 540.0 L286.1 541.8 L287.0 543.6 L287.9 545.4 L288.9 547.2 L289.8 549.0 L290.8 550.8 L291.8 552.5 L292.8 554.3 L293.8 556.1 L294.8 557.8 L295.8 559.6 L296.8 561.3 L297.9 563.1 L298.9 564.8 L300.0 566.5 L301.0 568.3 L302.1 570.0 L303.1 571.7 L304.2 573.4 L305.3 575.1 L306.4 576.8 L307.5 578.5 L308.6 580.2 L309.7 581.9 L310.8 583.6 L311.9 585.3 L313.0 586.9 L314.1 588.6 L315.2 590.3 L316.3 591.9 L317.4 593.6 L318.5 595.2 L319.7 596.9 L320.8 598.6 L321.9 600.2 L323.0 601.9 L324.2 603.5 L325.3 605.1 L326.4 606.8 L327.6 608.4 L328.7 610.1 L329.8 611.7 L331.0 613.4 L332.1 615.0 L333.3 616.7 L334.4 618.3 L335.5 620.0 L336.7 621.6 L337.8 623.3 L339.0 624.9 L340.1 626.6 L341.3 628.2 L342.4 629.9 L343.6 631.6 L344.7 633.2 L345.9 634.9 L347.1 636.6 L348.2 638.2 L349.4 639.9 L350.6 641.5 L351.8 643.2 L353.0 644.8 L354.2 646.4 L355.5 648.0 L356.8 649.6 L358.0 651.2 L359.4 652.7 L360.7 654.2 L362.0 655.7 L363.4 657.2 L364.8 658.6 L366.3 660.1 L367.7 661.4 L369.2 662.8 L370.7 664.2 L372.2 665.5 L373.7 666.8 L375.3 668.0 L376.8 669.3 L378.4 670.5 L380.0 671.7 L381.6 672.9 L383.3 674.0 L384.9 675.2 L386.6 676.3 L388.3 677.3 L390.0 678.4 L391.7 679.4 L393.4 680.4 L395.2 681.4 L397.0 682.4 L398.7 683.3 L400.5 684.2 L402.3 685.1 L404.1 686.0 L406.0 686.8 L407.8 687.6 L409.6 688.4 L411.5 689.2 L413.4 690.0 L415.2 690.7 L417.1 691.4 L419.0 692.1 L420.9 692.8 L422.8 693.4 L424.7 694.0 L426.7 694.6 L428.6 695.2 L430.5 695.7 L432.5 696.3 L434.4 696.8 L436.4 697.3 L438.4 697.7 L440.3 698.2 L442.3 698.6 L444.3 699.0 L446.3 699.3 L448.3 699.7 L450.2 700.0 L452.2 700.3 L454.2 700.6 L456.3 700.9 L458.3 701.1 L460.3 701.4 L462.3 701.6 L464.3 701.7 L466.3 701.9 L468.3 702.0 L470.4 702.1 L472.4 702.2 L474.4 702.3 L476.4 702.4 L478.5 702.4 L480.5 702.4 L482.5 702.4 L484.6 702.4 L486.6 702.3 L488.6 702.2 L490.6 702.1 L492.7 702.0 L494.7 701.9 L496.7 701.7 L498.7 701.5 L500.8 701.3 L502.8 701.1 L504.8 700.9 L506.8 700.6 L508.8 700.3 L510.8 700.0 L512.8 699.7 L514.8 699.3 L516.8 699.0 L518.8 698.6 L520.8 698.2 L522.8 697.7 L524.8 697.3 L526.8 696.8 L528.7 696.3 L530.7 695.8 L532.6 695.3 L534.6 694.7 L536.5 694.2 L538.5 693.6 L540.4 693.0 L542.3 692.3 L544.2 691.7 L546.1 691.0 L548.0 690.3 L549.9 689.6 L551.8 688.9 L553.7 688.1 L555.6 687.4 L557.4 686.6 L559.3 685.8 L561.1 684.9 L562.9 684.1 L564.7 683.2 L566.5 682.3 L568.3 681.4 L570.1 680.5 L571.9 679.5 L573.7 678.6 L575.4 677.6 L577.1 676.6 L578.9 675.6 L580.6 674.5 L582.3 673.5 L584.0 672.4 L585.6 671.3 L587.3 670.1 L589.0 669.0 L590.6 667.8 L592.2 666.7 L593.8 665.5 L595.4 664.3 L597.0 663.0 L598.5 661.8 L600.1 660.5 L601.6 659.2 L603.1 657.9 L604.6 656.6 L606.1 655.2 L607.6 653.8 L609.0 652.5 L610.4 651.1 L611.8 649.6 L613.2 648.2 L614.6 646.7 L616.0 645.3 L617.3 643.8 L618.6 642.3 L619.9 640.7 L621.2 639.2 L622.5 637.6 L623.7 636.1 L625.0 634.5 L626.2 632.9 L627.4 631.3 L628.6 629.6 L629.8 628.0 L630.9 626.3 L632.1 624.7 L633.2 623.0 L634.3 621.3 L635.4 619.6 L636.5 617.9 L637.6 616.1 L638.6 614.4 L639.7 612.7 L640.7 610.9 L641.7 609.1 L642.7 607.4 L643.7 605.6 L644.7 603.8 L645.6 602.0 L646.6 600.2 L647.5 598.4 L648.4 596.6 L649.3 594.7 L650.2 592.9 L651.1 591.1 L651.9 589.2 L652.8 587.4 L653.6 585.5 L654.4 583.7 L655.2 581.8 L656.0 580.0 L656.8 578.1 L657.6 576.2 L658.4 574.4 L659.1 572.5 L659.9 570.6 L660.6 568.8 L661.3 566.9 L662.0 565.0 L662.7 563.1 L663.4 561.3 L664.1 559.4 L664.7 557.5 L665.4 555.6 L666.0 553.8 L666.7 551.9 L667.3 550.0 L667.9 548.2 L668.5 546.3" fill="none" stroke="#d8646e" stroke-width="3.4" stroke-linecap="butt" stroke-linejoin="round" />
<path d="M272.2 404.2 L271.9 406.0 L271.7 407.9 L271.5 409.8 L271.4 411.6 L271.2 413.5 L271.0 415.4 L270.9 417.3 L270.7 419.2 L270.6 421.1 L270.5 423.0 L270.3 424.9 L270.2 426.8 L270.1 428.7 L270.1 430.6 L270.0 432.6 L269.9 434.5 L269.9 436.4 L269.8 438.4 L269.8 440.3 L269.8 442.3 L269.7 444.2 L269.7 446.2 L269.7 448.1 L269.8 450.1 L269.8 452.1 L269.8 454.1 L269.9 456.0 L269.9 458.0 L270.0 460.0 L270.1 462.0 L270.2 464.0 L270.3 466.0 L270.4 468.0 L270.5 470.0 L270.6 471.9 L270.8 473.9 L270.9 476.0 L271.1 478.0 L271.3 480.0 L271.5 482.0 L271.6 484.0 L271.9 486.0 L272.1 488.0 L272.3 490.0 L272.5 492.0 L272.8 494.0 L273.0 496.1 L273.3 498.1 L273.6 500.1 L273.9 502.1 L274.2 504.1 L274.5 506.1 L274.8 508.1 L275.1 510.2 L275.5 512.2 L275.8 514.2 L276.2 516.2 L276.6 518.2 L277.0 520.2 L277.4 522.2 L277.8 524.2 L278.2 526.2 L278.6 528.3 L279.1 530.3 L279.5 532.3 L280.0 534.3 L280.5 536.3 L280.9 538.3 L281.4 540.2 L281.9 542.2 L282.5 544.2 L283.0 546.2 L283.5 548.2 L284.1 550.2 L284.6 552.1 L285.2 554.1 L285.8 556.1 L286.4 558.1 L287.0 560.0 L287.6 562.0 L288.3 563.9 L288.9 565.9 L289.5 567.8 L290.2 569.8 L290.9 571.7 L291.6 573.6 L292.3 575.6 L293.0 577.5 L293.7 579.4 L294.4 581.3 L295.2 583.2 L295.9 585.1 L296.7 587.0 L297.5 588.9 L298.2 590.8 L299.0 592.7 L299.9 594.6 L300.7 596.4 L301.5 598.3 L302.3 600.1 L303.2 602.0 L304.1 603.8 L305.0 605.7 L305.8 607.5 L306.7 609.3 L307.7 611.1 L308.6 612.9 L309.5 614.7 L310.5 616.5 L311.4 618.3 L312.4 620.0 L313.4 621.8 L314.4 623.6 L315.4 625.3 L316.4 627.1 L317.4 628.8 L318.5 630.5 L319.5 632.2 L320.6 633.9 L321.7 635.6 L322.8 637.3 L323.9 639.0 L325.0 640.6 L326.1 642.3 L327.2 643.9 L328.4 645.6 L329.5 647.2 L330.7 648.8 L331.9 650.4 L333.1 652.0 L334.3 653.6 L335.5 655.2 L336.7 656.7 L338.0 658.3 L339.2 659.8 L340.5 661.4 L341.8 662.9 L343.1 664.4 L344.4 665.9 L345.7 667.4 L347.0 668.8 L348.4 670.3 L349.7 671.7 L351.1 673.2 L352.4 674.6 L353.8 676.0 L355.2 677.4 L356.6 678.8 L358.1 680.1 L359.5 681.5 L361.0 682.8 L362.4 684.2 L363.9 685.5 L365.4 686.8 L366.9 688.1 L368.4 689.3 L369.9 690.6 L371.4 691.8 L373.0 693.1 L374.5 694.3 L376.1 695.5 L377.7 696.7 L379.3 697.8 L380.9 699.0 L382.5 700.1 L384.2 701.3 L385.8 702.4 L387.4 703.5 L389.1 704.5 L390.8 705.6 L392.5 706.7 L394.1 707.7 L395.9 708.7 L397.6 709.7 L399.3 710.7 L401.0 711.7 L402.8 712.6 L404.5 713.6 L406.3 714.5 L408.0 715.4 L409.8 716.3 L411.6 717.2 L413.4 718.0 L415.2 718.9 L417.0 719.7 L418.8 720.5 L420.6 721.3 L422.5 722.1 L424.3 722.9 L426.1 723.6 L428.0 724.3 L429.8 725.1 L431.7 725.8 L433.6 726.4 L435.5 727.1 L437.3 727.7 L439.2 728.4 L441.1 729.0 L443.0 729.6 L444.9 730.2 L446.8 730.7 L448.8 731.3 L450.7 731.8 L452.6 732.3 L454.5 732.8 L456.5 733.2 L458.4 733.7 L460.4 734.1 L462.3 734.5 L464.2 734.9 L466.2 735.3 L468.2 735.7 L470.1 736.0 L472.1 736.4 L474.0 736.7 L476.0 737.0 L478.0 737.2 L479.9 737.5 L481.9 737.7 L483.9 737.9 L485.9 738.1 L487.9 738.3 L489.8 738.5 L491.8 738.6 L493.8 738.7 L495.8 738.8 L497.8 738.9 L499.8 739.0 L501.7 739.0 L503.7 739.0 L505.7 739.0 L507.7 739.0 L509.7 739.0 L511.7 738.9 L513.6 738.8 L515.6 738.8 L517.6 738.6 L519.6 738.5 L521.6 738.3 L523.5 738.2 L525.5 738.0 L527.5 737.8 L529.5 737.5 L531.4 737.3 L533.4 737.0 L535.4 736.7 L537.3 736.4 L539.3 736.0 L541.2 735.7 L543.2 735.3 L545.1 734.9 L547.1 734.5 L549.0 734.0 L551.0 733.6 L552.9 733.1 L554.8 732.6 L556.8 732.0 L558.7 731.5 L560.6 730.9 L562.5 730.3 L564.4 729.7 L566.3 729.1 L568.2 728.4 L570.1 727.8 L572.0 727.1 L573.9 726.3 L575.7 725.6 L577.6 724.9 L579.5 724.1 L581.3 723.3 L583.2 722.5 L585.0 721.7 L586.8 720.8 L588.7 719.9 L590.5 719.1 L592.3 718.2 L594.1 717.2 L595.9 716.3 L597.7 715.4 L599.5 714.4 L601.3 713.4 L603.1 712.4 L604.9 711.4 L606.6 710.4 L608.4 709.3 L610.1 708.3 L611.9 707.2 L613.6 706.1 L615.3 705.0 L617.1 703.9 L618.8 702.8 L620.5 701.6 L622.2 700.5 L623.9 699.3 L625.5 698.2 L627.2 697.0 L628.9 695.8 L630.5 694.5 L632.2 693.3 L633.8 692.1 L635.4 690.8 L637.0 689.6 L638.7 688.3 L640.3 687.0 L641.8 685.8 L643.4 684.5 L645.0 683.1 L646.6 681.8 L648.1 680.5 L649.7 679.2 L651.2 677.8 L652.7 676.5 L654.2 675.1 L655.7 673.8 L657.2 672.4 L658.7 671.0 L660.2 669.6 L661.7 668.2 L663.1 666.8 L664.6 665.4 L666.0 664.0 L667.4 662.6 L668.8 661.2 L670.2 659.8 L671.6 658.3 L673.0 656.9 L674.4 655.5 L675.7 654.0 L677.1 652.6 L678.4 651.1 L679.7 649.7 L681.0 648.2 L682.3 646.8 L683.6 645.3" fill="none" stroke="#c4c4c4" stroke-width="5" stroke-linecap="butt" stroke-linejoin="round" />
<path d="M272.2 404.2 L271.9 406.0 L271.7 407.9 L271.5 409.8 L271.4 411.6 L271.2 413.5 L271.0 415.4 L270.9 417.3 L270.7 419.2 L270.6 421.1 L270.5 423.0 L270.3 424.9 L270.2 426.8 L270.1 428.7 L270.1 430.6 L270.0 432.6 L269.9 434.5 L269.9 436.4 L269.8 438.4 L269.8 440.3 L269.8 442.3 L269.7 444.2 L269.7 446.2 L269.7 448.1 L269.8 450.1 L269.8 452.1 L269.8 454.1 L269.9 456.0 L269.9 458.0 L270.0 460.0 L270.1 462.0 L270.2 464.0 L270.3 466.0 L270.4 468.0 L270.5 470.0 L270.6 471.9 L270.8 473.9 L270.9 476.0 L271.1 478.0 L271.3 480.0 L271.5 482.0 L271.6 484.0 L271.9 486.0 L272.1 488.0 L272.3 490.0 L272.5 492.0 L272.8 494.0 L273.0 496.1 L273.3 498.1 L273.6 500.1 L273.9 502.1 L274.2 504.1 L274.5 506.1 L274.8 508.1 L275.1 510.2 L275.5 512.2 L275.8 514.2 L276.2 516.2 L276.6 518.2 L277.0 520.2 L277.4 522.2 L277.8 524.2 L278.2 526.2 L278.6 528.3 L279.1 530.3 L279.5 532.3 L280.0 534.3 L280.5 536.3 L280.9 538.3 L281.4 540.2 L281.9 542.2 L282.5 544.2 L283.0 546.2 L283.5 548.2 L284.1 550.2 L284.6 552.1 L285.2 554.1 L285.8 556.1 L286.4 558.1 L287.0 560.0 L287.6 562.0 L288.3 563.9 L288.9 565.9 L289.5 567.8 L290.2 569.8 L290.9 571.7 L291.6 573.6 L292.3 575.6 L293.0 577.5 L293.7 579.4 L294.4 581.3 L295.2 583.2 L295.9 585.1 L296.7 587.0 L297.5 588.9 L298.2 590.8 L299.0 592.7 L299.9 594.6 L300.7 596.4 L301.5 598.3 L302.3 600.1 L303.2 602.0 L304.1 603.8 L305.0 605.7 L305.8 607.5 L306.7 609.3 L307.7 611.1 L308.6 612.9 L309.5 614.7 L310.5 616.5 L311.4 618.3 L312.4 620.0 L313.4 621.8 L314.4 623.6 L315.4 625.3 L316.4 627.1 L317.4 628.8 L318.5 630.5 L319.5 632.2 L320.6 633.9 L321.7 635.6 L322.8 637.3 L323.9 639.0 L325.0 640.6 L326.1 642.3 L327.2 643.9 L328.4 645.6 L329.5 647.2 L330.7 648.8 L331.9 650.4 L333.1 652.0 L334.3 653.6 L335.5 655.2 L336.7 656.7 L338.0 658.3 L339.2 659.8 L340.5 661.4 L341.8 662.9 L343.1 664.4 L344.4 665.9 L345.7 667.4 L347.0 668.8 L348.4 670.3 L349.7 671.7 L351.1 673.2 L352.4 674.6 L353.8 676.0 L355.2 677.4 L356.6 678.8 L358.1 680.1 L359.5 681.5 L361.0 682.8 L362.4 684.2 L363.9 685.5 L365.4 686.8 L366.9 688.1 L368.4 689.3 L369.9 690.6 L371.4 691.8 L373.0 693.1 L374.5 694.3 L376.1 695.5 L377.7 696.7 L379.3 697.8 L380.9 699.0 L382.5 700.1 L384.2 701.3 L385.8 702.4 L387.4 703.5 L389.1 704.5 L390.8 705.6 L392.5 706.7 L394.1 707.7 L395.9 708.7 L397.6 709.7 L399.3 710.7 L401.0 711.7 L402.8 712.6 L404.5 713.6 L406.3 714.5 L408.0 715.4 L409.8 716.3 L411.6 717.2 L413.4 718.0 L415.2 718.9 L417.0 719.7 L418.8 720.5 L420.6 721.3 L422.5 722.1 L424.3 722.9 L426.1 723.6 L428.0 724.3 L429.8 725.1 L431.7 725.8 L433.6 726.4 L435.5 727.1 L437.3 727.7 L439.2 728.4 L441.1 729.0 L443.0 729.6 L444.9 730.2 L446.8 730.7 L448.8 731.3 L450.7 731.8 L452.6 732.3 L454.5 732.8 L456.5 733.2 L458.4 733.7 L460.4 734.1 L462.3 734.5 L464.2 734.9 L466.2 735.3 L468.2 735.7 L470.1 736.0 L472.1 736.4 L474.0 736.7 L476.0 737.0 L478.0 737.2 L479.9 737.5 L481.9 737.7 L483.9 737.9 L485.9 738.1 L487.9 738.3 L489.8 738.5 L491.8 738.6 L493.8 738.7 L495.8 738.8 L497.8 738.9 L499.8 739.0 L501.7 739.0 L503.7 739.0 L505.7 739.0 L507.7 739.0 L509.7 739.0 L511.7 738.9 L513.6 738.8 L515.6 738.8 L517.6 738.6 L519.6 738.5 L521.6 738.3 L523.5 738.2 L525.5 738.0 L527.5 737.8 L529.5 737.5 L531.4 737.3 L533.4 737.0 L535.4 736.7 L537.3 736.4 L539.3 736.0 L541.2 735.7 L543.2 735.3 L545.1 734.9 L547.1 734.5 L549.0 734.0 L551.0 733.6 L552.9 733.1 L554.8 732.6 L556.8 732.0 L558.7 731.5 L560.6 730.9 L562.5 730.3 L564.4 729.7 L566.3 729.1 L568.2 728.4 L570.1 727.8 L572.0 727.1 L573.9 726.3 L575.7 725.6 L577.6 724.9 L579.5 724.1 L581.3 723.3 L583.2 722.5 L585.0 721.7 L586.8 720.8 L588.7 719.9 L590.5 719.1 L592.3 718.2 L594.1 717.2 L595.9 716.3 L597.7 715.4 L599.5 714.4 L601.3 713.4 L603.1 712.4 L604.9 711.4 L606.6 710.4 L608.4 709.3 L610.1 708.3 L611.9 707.2 L613.6 706.1 L615.3 705.0 L617.1 703.9 L618.8 702.8 L620.5 701.6 L622.2 700.5 L623.9 699.3 L625.5 698.2 L627.2 697.0 L628.9 695.8 L630.5 694.5 L632.2 693.3 L633.8 692.1 L635.4 690.8 L637.0 689.6 L638.7 688.3 L640.3 687.0 L641.8 685.8 L643.4 684.5 L645.0 683.1 L646.6 681.8 L648.1 680.5 L649.7 679.2 L651.2 677.8 L652.7 676.5 L654.2 675.1 L655.7 673.8 L657.2 672.4 L658.7 671.0 L660.2 669.6 L661.7 668.2 L663.1 666.8 L664.6 665.4 L666.0 664.0 L667.4 662.6 L668.8 661.2 L670.2 659.8 L671.6 658.3 L673.0 656.9 L674.4 655.5 L675.7 654.0 L677.1 652.6 L678.4 651.1 L679.7 649.7 L681.0 648.2 L682.3 646.8 L683.6 645.3" fill="none" stroke="#f2f2f2" stroke-width="3" stroke-linecap="butt" stroke-linejoin="round" />
<path d="M261.5 403.0 L261.3 405.0 L261.1 407.0 L260.9 409.0 L260.7 411.0 L260.5 413.0 L260.2 415.0 L260.0 417.0 L259.8 419.0 L259.6 421.0 L259.4 423.0 L259.2 425.0 L258.9 427.0 L258.7 429.0 L258.5 431.0 L258.3 433.0 L258.1 435.0 L258.0 437.0 L257.8 439.0 L257.6 441.0 L257.5 443.0 L257.3 445.0 L257.2 447.0 L257.1 449.0 L257.0 451.0 L256.9 453.0 L256.9 455.0 L256.8 457.0 L256.8 459.0 L256.8 461.0 L256.8 463.0 L256.8 465.0 L256.8 467.0 L256.9 469.0 L257.0 471.0 L257.1 473.0 L257.3 475.0 L257.4 477.0 L257.6 479.0 L257.8 481.0 L258.0 483.0 L258.3 485.0 L258.6 486.9 L258.8 488.9 L259.2 490.9 L259.5 492.9 L259.9 494.9 L260.2 496.8 L260.6 498.8 L261.0 500.8 L261.5 502.8 L261.9 504.7 L262.4 506.7 L262.9 508.6 L263.4 510.6 L263.9 512.5 L264.5 514.5 L265.0 516.4 L265.6 518.3 L266.2 520.3 L266.8 522.2 L267.5 524.1 L268.1 526.0 L268.8 527.9 L269.5 529.8 L270.1 531.7 L270.9 533.6 L271.6 535.5 L272.3 537.4 L273.1 539.3 L273.8 541.1 L274.6 543.0 L275.4 544.9 L276.2 546.7 L277.0 548.5 L277.9 550.4 L278.7 552.2 L279.6 554.0 L280.5 555.8 L281.3 557.6 L282.2 559.4 L283.1 561.2 L284.1 563.0 L285.0 564.7 L285.9 566.5 L286.9 568.3 L287.8 570.0 L288.8 571.8 L289.7 573.5 L290.7 575.3 L291.7 577.0 L292.6 578.8 L293.6 580.5 L294.6 582.2 L295.6 584.0 L296.6 585.7 L297.6 587.5 L298.6 589.2 L299.6 591.0 L300.6 592.7 L301.6 594.5 L302.6 596.2 L303.5 598.0 L304.5 599.7 L305.5 601.5 L306.5 603.3 L307.5 605.1 L308.4 606.9 L309.4 608.7 L310.4 610.5 L311.3 612.3 L312.3 614.1 L313.3 615.9 L314.2 617.7 L315.2 619.5 L316.2 621.3 L317.2 623.1 L318.1 624.9 L319.1 626.7 L320.1 628.5 L321.2 630.2 L322.2 632.0 L323.2 633.7 L324.3 635.4 L325.3 637.1 L326.4 638.8 L327.5 640.5 L328.7 642.1 L329.8 643.7 L331.0 645.3 L332.2 646.9 L333.4 648.4 L334.6 649.9 L335.9 651.4 L337.2 652.9 L338.5 654.3 L339.9 655.6 L341.3 657.0 L342.7 658.3 L344.1 659.6 L345.6 660.8 L347.1 662.1 L348.6 663.3 L350.1 664.5 L351.7 665.6 L353.2 666.8 L354.8 667.9 L356.4 669.1 L358.1 670.2 L359.7 671.3 L361.3 672.4 L363.0 673.5 L364.7 674.6 L366.3 675.7 L368.0 676.8 L369.7 677.9 L371.4 679.0 L373.1 680.1 L374.9 681.2 L376.6 682.3 L378.3 683.4 L380.1 684.4 L381.8 685.5 L383.6 686.5 L385.4 687.6 L387.1 688.6 L388.9 689.6 L390.7 690.6 L392.5 691.6 L394.3 692.6 L396.2 693.5 L398.0 694.5 L399.8 695.4 L401.6 696.4 L403.5 697.3 L405.3 698.2 L407.2 699.0 L409.1 699.9 L410.9 700.7 L412.8 701.6 L414.7 702.4 L416.6 703.2 L418.5 703.9 L420.4 704.7 L422.3 705.4 L424.2 706.1 L426.1 706.7 L428.0 707.4 L429.9 708.0 L431.8 708.6 L433.8 709.2 L435.7 709.8 L437.6 710.3 L439.6 710.8 L441.5 711.2 L443.5 711.7 L445.4 712.1 L447.4 712.5 L449.3 712.8 L451.3 713.1 L453.2 713.4 L455.2 713.7 L457.2 714.0 L459.1 714.2 L461.1 714.4 L463.1 714.5 L465.0 714.7 L467.0 714.8 L469.0 714.9 L470.9 714.9 L472.9 715.0 L474.9 715.0 L476.9 715.0 L478.8 714.9 L480.8 714.9 L482.8 714.8 L484.8 714.6 L486.7 714.5 L488.7 714.3 L490.7 714.2 L492.6 713.9 L494.6 713.7 L496.6 713.5 L498.5 713.2 L500.5 712.9 L502.4 712.5 L504.4 712.2 L506.4 711.8 L508.3 711.4 L510.3 711.0 L512.2 710.6 L514.1 710.1 L516.1 709.6 L518.0 709.1 L519.9 708.6 L521.9 708.1 L523.8 707.5 L525.7 706.9 L527.6 706.3 L529.5 705.7 L531.4 705.0 L533.3 704.4 L535.2 703.7 L537.1 703.0 L539.0 702.2 L540.8 701.5 L542.7 700.7 L544.6 699.9 L546.4 699.1 L548.3 698.3 L550.1 697.5 L552.0 696.6 L553.8 695.8 L555.6 694.9 L557.4 694.0 L559.2 693.0 L561.0 692.1 L562.8 691.1 L564.6 690.2 L566.3 689.2 L568.1 688.2 L569.9 687.1 L571.6 686.1 L573.3 685.0 L575.1 684.0 L576.8 682.9 L578.5 681.8 L580.2 680.6 L581.9 679.5 L583.5 678.4 L585.2 677.2 L586.9 676.0 L588.5 674.8 L590.1 673.6 L591.7 672.4 L593.4 671.2 L595.0 669.9 L596.5 668.7 L598.1 667.4 L599.7 666.1 L601.2 664.8 L602.7 663.5 L604.3 662.2 L605.8 660.8 L607.3 659.5 L608.8 658.1 L610.2 656.8 L611.7 655.4 L613.1 654.0 L614.5 652.6 L616.0 651.2 L617.4 649.7 L618.8 648.3 L620.1 646.9 L621.5 645.4 L622.9 644.0 L624.2 642.5 L625.6 641.0 L626.9 639.5 L628.2 638.0 L629.5 636.5 L630.8 635.0 L632.1 633.5 L633.4 632.0 L634.7 630.5 L636.0 628.9 L637.3 627.4 L638.6 625.8 L639.8 624.3 L641.1 622.7 L642.3 621.2 L643.6 619.6 L644.9 618.1 L646.1 616.5 L647.4 614.9 L648.6 613.4 L649.9 611.8 L651.1 610.2 L652.3 608.6 L653.6 607.1 L654.8 605.5 L656.1 603.9 L657.3 602.3 L658.6 600.7 L659.9 599.2 L661.1 597.6 L662.4 596.0 L663.6 594.4 L664.9 592.8" fill="none" stroke="#3e9cc4" stroke-width="5.6" stroke-linecap="butt" stroke-linejoin="round" />
<path d="M261.5 403.0 L261.3 405.0 L261.1 407.0 L260.9 409.0 L260.7 411.0 L260.5 413.0 L260.2 415.0 L260.0 417.0 L259.8 419.0 L259.6 421.0 L259.4 423.0 L259.2 425.0 L258.9 427.0 L258.7 429.0 L258.5 431.0 L258.3 433.0 L258.1 435.0 L258.0 437.0 L257.8 439.0 L257.6 441.0 L257.5 443.0 L257.3 445.0 L257.2 447.0 L257.1 449.0 L257.0 451.0 L256.9 453.0 L256.9 455.0 L256.8 457.0 L256.8 459.0 L256.8 461.0 L256.8 463.0 L256.8 465.0 L256.8 467.0 L256.9 469.0 L257.0 471.0 L257.1 473.0 L257.3 475.0 L257.4 477.0 L257.6 479.0 L257.8 481.0 L258.0 483.0 L258.3 485.0 L258.6 486.9 L258.8 488.9 L259.2 490.9 L259.5 492.9 L259.9 494.9 L260.2 496.8 L260.6 498.8 L261.0 500.8 L261.5 502.8 L261.9 504.7 L262.4 506.7 L262.9 508.6 L263.4 510.6 L263.9 512.5 L264.5 514.5 L265.0 516.4 L265.6 518.3 L266.2 520.3 L266.8 522.2 L267.5 524.1 L268.1 526.0 L268.8 527.9 L269.5 529.8 L270.1 531.7 L270.9 533.6 L271.6 535.5 L272.3 537.4 L273.1 539.3 L273.8 541.1 L274.6 543.0 L275.4 544.9 L276.2 546.7 L277.0 548.5 L277.9 550.4 L278.7 552.2 L279.6 554.0 L280.5 555.8 L281.3 557.6 L282.2 559.4 L283.1 561.2 L284.1 563.0 L285.0 564.7 L285.9 566.5 L286.9 568.3 L287.8 570.0 L288.8 571.8 L289.7 573.5 L290.7 575.3 L291.7 577.0 L292.6 578.8 L293.6 580.5 L294.6 582.2 L295.6 584.0 L296.6 585.7 L297.6 587.5 L298.6 589.2 L299.6 591.0 L300.6 592.7 L301.6 594.5 L302.6 596.2 L303.5 598.0 L304.5 599.7 L305.5 601.5 L306.5 603.3 L307.5 605.1 L308.4 606.9 L309.4 608.7 L310.4 610.5 L311.3 612.3 L312.3 614.1 L313.3 615.9 L314.2 617.7 L315.2 619.5 L316.2 621.3 L317.2 623.1 L318.1 624.9 L319.1 626.7 L320.1 628.5 L321.2 630.2 L322.2 632.0 L323.2 633.7 L324.3 635.4 L325.3 637.1 L326.4 638.8 L327.5 640.5 L328.7 642.1 L329.8 643.7 L331.0 645.3 L332.2 646.9 L333.4 648.4 L334.6 649.9 L335.9 651.4 L337.2 652.9 L338.5 654.3 L339.9 655.6 L341.3 657.0 L342.7 658.3 L344.1 659.6 L345.6 660.8 L347.1 662.1 L348.6 663.3 L350.1 664.5 L351.7 665.6 L353.2 666.8 L354.8 667.9 L356.4 669.1 L358.1 670.2 L359.7 671.3 L361.3 672.4 L363.0 673.5 L364.7 674.6 L366.3 675.7 L368.0 676.8 L369.7 677.9 L371.4 679.0 L373.1 680.1 L374.9 681.2 L376.6 682.3 L378.3 683.4 L380.1 684.4 L381.8 685.5 L383.6 686.5 L385.4 687.6 L387.1 688.6 L388.9 689.6 L390.7 690.6 L392.5 691.6 L394.3 692.6 L396.2 693.5 L398.0 694.5 L399.8 695.4 L401.6 696.4 L403.5 697.3 L405.3 698.2 L407.2 699.0 L409.1 699.9 L410.9 700.7 L412.8 701.6 L414.7 702.4 L416.6 703.2 L418.5 703.9 L420.4 704.7 L422.3 705.4 L424.2 706.1 L426.1 706.7 L428.0 707.4 L429.9 708.0 L431.8 708.6 L433.8 709.2 L435.7 709.8 L437.6 710.3 L439.6 710.8 L441.5 711.2 L443.5 711.7 L445.4 712.1 L447.4 712.5 L449.3 712.8 L451.3 713.1 L453.2 713.4 L455.2 713.7 L457.2 714.0 L459.1 714.2 L461.1 714.4 L463.1 714.5 L465.0 714.7 L467.0 714.8 L469.0 714.9 L470.9 714.9 L472.9 715.0 L474.9 715.0 L476.9 715.0 L478.8 714.9 L480.8 714.9 L482.8 714.8 L484.8 714.6 L486.7 714.5 L488.7 714.3 L490.7 714.2 L492.6 713.9 L494.6 713.7 L496.6 713.5 L498.5 713.2 L500.5 712.9 L502.4 712.5 L504.4 712.2 L506.4 711.8 L508.3 711.4 L510.3 711.0 L512.2 710.6 L514.1 710.1 L516.1 709.6 L518.0 709.1 L519.9 708.6 L521.9 708.1 L523.8 707.5 L525.7 706.9 L527.6 706.3 L529.5 705.7 L531.4 705.0 L533.3 704.4 L535.2 703.7 L537.1 703.0 L539.0 702.2 L540.8 701.5 L542.7 700.7 L544.6 699.9 L546.4 699.1 L548.3 698.3 L550.1 697.5 L552.0 696.6 L553.8 695.8 L555.6 694.9 L557.4 694.0 L559.2 693.0 L561.0 692.1 L562.8 691.1 L564.6 690.2 L566.3 689.2 L568.1 688.2 L569.9 687.1 L571.6 686.1 L573.3 685.0 L575.1 684.0 L576.8 682.9 L578.5 681.8 L580.2 680.6 L581.9 679.5 L583.5 678.4 L585.2 677.2 L586.9 676.0 L588.5 674.8 L590.1 673.6 L591.7 672.4 L593.4 671.2 L595.0 669.9 L596.5 668.7 L598.1 667.4 L599.7 666.1 L601.2 664.8 L602.7 663.5 L604.3 662.2 L605.8 660.8 L607.3 659.5 L608.8 658.1 L610.2 656.8 L611.7 655.4 L613.1 654.0 L614.5 652.6 L616.0 651.2 L617.4 649.7 L618.8 648.3 L620.1 646.9 L621.5 645.4 L622.9 644.0 L624.2 642.5 L625.6 641.0 L626.9 639.5 L628.2 638.0 L629.5 636.5 L630.8 635.0 L632.1 633.5 L633.4 632.0 L634.7 630.5 L636.0 628.9 L637.3 627.4 L638.6 625.8 L639.8 624.3 L641.1 622.7 L642.3 621.2 L643.6 619.6 L644.9 618.1 L646.1 616.5 L647.4 614.9 L648.6 613.4 L649.9 611.8 L651.1 610.2 L652.3 608.6 L653.6 607.1 L654.8 605.5 L656.1 603.9 L657.3 602.3 L658.6 600.7 L659.9 599.2 L661.1 597.6 L662.4 596.0 L663.6 594.4 L664.9 592.8" fill="none" stroke="#58b0d4" stroke-width="3.2" stroke-linecap="butt" stroke-linejoin="round" />
<path d="M659.4 530 L659.4 505" stroke="#2a1e1e" stroke-width="4.6" stroke-linecap="round"/>
<path d="M673.5 531 L678.8 521.5" stroke="#d8606a" stroke-width="4.4" stroke-linecap="round"/>
<path d="M673 575 L685 547" stroke="#4aa6d0" stroke-width="5" stroke-linecap="round"/>
<path d="M694 635 L708.5 616.5" stroke="#dcdcdc" stroke-width="4.6" stroke-linecap="round"/><path d="M694 635 L708.5 616.5" stroke="#f6f6f6" stroke-width="2.6" stroke-linecap="round"/>
<path d="M704 720 L724 705.5" stroke="#c4b024" stroke-width="4.6" stroke-linecap="round"/>
<path d="M105.1 408.6 L105.5 410.6 L105.9 412.5 L106.3 414.5 L106.7 416.4 L107.1 418.4 L107.5 420.3 L107.9 422.3 L108.3 424.2 L108.8 426.2 L109.2 428.2 L109.6 430.1 L110.0 432.1 L110.5 434.0 L110.9 436.0 L111.3 437.9 L111.8 439.9 L112.2 441.8 L112.7 443.8 L113.2 445.8 L113.6 447.7 L114.1 449.7 L114.6 451.6 L115.0 453.6 L115.5 455.5 L116.0 457.5 L116.5 459.4 L117.0 461.4 L117.5 463.3 L118.0 465.3 L118.5 467.2 L119.0 469.2 L119.5 471.1 L120.0 473.1 L120.5 475.0 L121.0 477.0 L121.6 478.9 L122.1 480.8 L122.6 482.8 L123.2 484.7 L123.7 486.7 L124.3 488.6 L124.8 490.5 L125.4 492.5 L125.9 494.4 L126.5 496.4 L127.1 498.3 L127.7 500.2 L128.2 502.2 L128.8 504.1 L129.4 506.0 L130.0 507.9 L130.6 509.9 L131.2 511.8 L131.8 513.7 L132.4 515.6 L133.1 517.6 L133.7 519.5 L134.3 521.4 L134.9 523.3 L135.6 525.2 L136.2 527.1 L136.9 529.1 L137.5 531.0 L138.2 532.9 L138.8 534.8 L139.5 536.7 L140.2 538.6 L140.9 540.5 L141.6 542.4 L142.2 544.3 L142.9 546.2 L143.6 548.1 L144.3 550.0 L145.0 551.8 L145.8 553.7 L146.5 555.6 L147.2 557.5 L147.9 559.4 L148.7 561.2 L149.4 563.1 L150.1 565.0 L150.9 566.9 L151.6 568.7 L152.4 570.6 L153.2 572.5 L153.9 574.3 L154.7 576.2 L155.5 578.0 L156.3 579.9 L157.1 581.7 L157.9 583.6 L158.7 585.4 L159.5 587.3 L160.3 589.1 L161.1 590.9 L162.0 592.8 L162.8 594.6 L163.6 596.4 L164.5 598.3 L165.3 600.1 L166.2 601.9 L167.0 603.7 L167.9 605.5 L168.8 607.3 L169.7 609.1 L170.5 610.9 L171.4 612.7 L172.3 614.5 L173.2 616.3 L174.1 618.1 L175.1 619.9 L176.0 621.7 L176.9 623.5 L177.8 625.3 L178.8 627.0 L179.7 628.8 L180.7 630.6 L181.6 632.3 L182.6 634.1 L183.6 635.8 L184.5 637.6 L185.5 639.3 L186.5 641.1 L187.5 642.8 L188.5 644.6 L189.5 646.3 L190.5 648.0 L191.5 649.7 L192.6 651.5 L193.6 653.2 L194.6 654.9 L195.7 656.6 L196.7 658.3 L197.8 660.0 L198.8 661.7 L199.9 663.4 L201.0 665.1 L202.1 666.8 L203.2 668.5 L204.2 670.1 L205.3 671.8 L206.5 673.5 L207.6 675.1 L208.7 676.8 L209.8 678.4 L211.0 680.1 L212.1 681.7 L213.3 683.4 L214.4 685.0 L215.6 686.7 L216.7 688.3 L217.9 689.9 L219.1 691.5 L220.3 693.1 L221.5 694.7 L222.7 696.3 L223.9 697.9 L225.1 699.5 L226.3 701.1 L227.6 702.7 L228.8 704.3 L230.1 705.9 L231.3 707.4 L232.6 709.0 L233.8 710.5 L235.1 712.1 L236.4 713.6 L237.7 715.2 L239.0 716.7 L240.3 718.3 L241.6 719.8 L242.9 721.3 L244.2 722.8 L245.6 724.3 L246.9 725.8 L248.3 727.3 L249.6 728.8 L251.0 730.3 L252.3 731.8 L253.7 733.3 L255.1 734.8 L256.5 736.2 L257.9 737.7 L259.3 739.1 L260.7 740.6 L262.1 742.0 L263.6 743.5 L265.0 744.9 L266.5 746.3 L267.9 747.7 L269.4 749.2 L270.8 750.6 L272.3 752.0 L273.8 753.4 L275.3 754.7 L276.8 756.1 L278.3 757.5 L279.8 758.9 L281.3 760.2 L282.9 761.6 L284.4 763.0 L285.9 764.3 L287.5 765.6 L289.1 767.0" fill="none" stroke="#000" stroke-width="1.6" stroke-linecap="butt" stroke-linejoin="round" />
<path d="M94 407.5 L118 407.5" stroke="#000" stroke-width="1.8"/>
<path d="M101.5 421 L105 408.5 L113.5 418.5" stroke="#000" stroke-width="1.6" fill="none"/>
<path d="M343.8 809.6 L345.8 810.2 L347.7 810.7 L349.7 811.3 L351.6 811.9 L353.6 812.4 L355.6 812.9 L357.5 813.5 L359.5 814.0 L361.5 814.5 L363.4 815.0 L365.4 815.5 L367.4 816.0 L369.4 816.5 L371.3 816.9 L373.3 817.4 L375.3 817.8 L377.3 818.3 L379.3 818.7 L381.3 819.1 L383.2 819.5 L385.2 819.9 L387.2 820.3 L389.2 820.7 L391.2 821.1 L393.2 821.5 L395.2 821.8 L397.2 822.2 L399.2 822.5 L401.2 822.8 L403.2 823.2 L405.2 823.5 L407.2 823.8 L409.2 824.1 L411.2 824.3 L413.2 824.6 L415.2 824.9 L417.2 825.1 L419.2 825.4 L421.2 825.6 L423.2 825.9 L425.2 826.1 L427.2 826.3 L429.2 826.5 L431.3 826.7 L433.3 826.9 L435.3 827.1 L437.3 827.2 L439.3 827.4 L441.3 827.5 L443.3 827.7 L445.3 827.8 L447.3 827.9 L449.4 828.0 L451.4 828.1 L453.4 828.2 L455.4 828.3 L457.4 828.4 L459.4 828.5 L461.4 828.5 L463.5 828.6 L465.5 828.6 L467.5 828.6 L469.5 828.7 L471.5 828.7 L473.5 828.7 L475.5 828.7 L477.5 828.7 L479.6 828.6 L481.6 828.6 L483.6 828.6 L485.6 828.5 L487.6 828.5 L489.6 828.4 L491.6 828.3 L493.6 828.2 L495.6 828.1 L497.6 828.0 L499.7 827.9 L501.7 827.8 L503.7 827.7 L505.7 827.5 L507.7 827.4 L509.7 827.2 L511.7 827.1 L513.7 826.9 L515.7 826.7 L517.7 826.5 L519.7 826.3 L521.7 826.1 L523.7 825.9 L525.7 825.6 L527.7 825.4 L529.7 825.2 L531.6 824.9 L533.6 824.6 L535.6 824.4 L537.6 824.1 L539.6 823.8 L541.6 823.5 L543.6 823.2 L545.5 822.9 L547.5 822.5 L549.5 822.2 L551.5 821.8 L553.5 821.5 L555.4 821.1 L557.4 820.7 L559.4 820.4 L561.3 820.0 L563.3 819.6 L565.3 819.2 L567.2 818.7 L569.2 818.3 L571.2 817.9 L573.1 817.4 L575.1 817.0 L577.0 816.5 L579.0 816.1 L580.9 815.6 L582.9 815.1 L584.8 814.6 L586.7 814.1 L588.7 813.6 L590.6 813.0 L592.6 812.5 L594.5 812.0 L596.4 811.4 L598.3 810.8 L600.3 810.3 L602.2 809.7 L604.1 809.1 L606.0 808.5 L607.9 807.9 L609.9 807.3 L611.8 806.7 L613.7 806.0 L615.6 805.4 L617.5 804.7 L619.4 804.1 L621.3 803.4 L623.2 802.7 L625.0 802.0 L626.9 801.4 L628.8 800.7 L630.7 799.9 L632.6 799.2 L634.4 798.5 L636.3 797.8 L638.2 797.0 L640.1 796.3 L641.9 795.5 L643.8 794.8 L645.6 794.0 L647.5 793.2 L649.4 792.4 L651.2 791.6 L653.1 790.8 L654.9 790.0 L656.7 789.2 L658.6 788.4 L660.4 787.6 L662.3 786.7 L664.1 785.9 L665.9 785.1 L667.7 784.2 L669.6 783.4 L671.4 782.5 L673.2 781.6 L675.0 780.7 L676.8 779.9 L678.7 779.0 L680.5 778.1 L682.3 777.2 L684.1 776.3 L685.9 775.4 L687.7 774.5 L689.5 773.5 L691.3 772.6 L693.1 771.7 L694.8 770.8 L696.6 769.8 L698.4 768.9 L700.2 767.9 L702.0 767.0 L703.7 766.0 L705.5 765.1 L707.3 764.1 L709.0 763.1 L710.8 762.2 L712.6 761.2 L714.3 760.2 L716.1 759.2 L717.8 758.2 L719.6 757.2 L721.3 756.2 L723.1 755.2 L724.8 754.2 L726.6 753.2 L728.3 752.2 L730.1 751.2 L731.8 750.2 L733.5 749.2 L735.2 748.1 L737.0 747.1 L738.7 746.1 L740.4 745.1 L742.1 744.0 L743.9 743.0 L745.6 742.0 L747.3 740.9 L749.0 739.9 L750.7 738.8 L752.4 737.8 L754.1 736.7 L755.8 735.7 L757.5 734.6 L759.2 733.6 L760.9 732.5 L762.6 731.5 L764.2 730.4 L765.9 729.4 L767.6 728.3" fill="none" stroke="#000" stroke-width="1.6" stroke-linecap="butt" stroke-linejoin="round" />
<path d="M756 732.5 L769.5 731 L762.4 742.5" stroke="#000" stroke-width="1.6" fill="none"/>
<path d="M766 719.5 L775.4 739.4" stroke="#000" stroke-width="1.6"/>
<path d="M285.0 408.4 L285.0 410.5 L285.0 412.5 L285.0 414.5 L285.0 416.5 L285.1 418.5 L285.1 420.5 L285.2 422.6 L285.2 424.6 L285.3 426.6 L285.4 428.6 L285.5 430.7 L285.6 432.7 L285.7 434.7 L285.9 436.8 L286.0 438.8 L286.2 440.8 L286.3 442.8 L286.5 444.9 L286.7 446.9 L286.9 448.9 L287.1 450.9 L287.3 453.0 L287.6 455.0 L287.8 457.0 L288.1 459.0 L288.3 461.1 L288.6 463.1 L288.9 465.1 L289.2 467.1 L289.5 469.1 L289.9 471.1 L290.2 473.1 L290.5 475.1 L290.9 477.2 L291.3 479.2 L291.7 481.2 L292.1 483.2 L292.5 485.2 L292.9 487.1 L293.3 489.1 L293.8 491.1 L294.2 493.1 L294.7 495.1 L295.2 497.1 L295.7 499.0 L296.2 501.0 L296.7 503.0 L297.2 504.9 L297.8 506.9 L298.3 508.8 L298.9 510.8 L299.5 512.7 L300.1 514.7 L300.7 516.6 L301.3 518.5 L301.9 520.4 L302.6 522.4 L303.2 524.3 L303.9 526.2 L304.6 528.1 L305.3 530.0 L306.0 531.9 L306.7 533.7 L307.5 535.6 L308.2 537.5 L309.0 539.4 L309.8 541.2 L310.6 543.1 L311.4 544.9 L312.2 546.8 L313.0 548.6 L313.9 550.4 L314.7 552.2 L315.6 554.0 L316.5 555.8 L317.4 557.6 L318.3 559.4 L319.2 561.2 L320.2 563.0 L321.1 564.7 L322.1 566.5 L323.1 568.2 L324.1 570.0 L325.1 571.7 L326.2 573.4 L327.2 575.1 L328.3 576.8 L329.3 578.5 L330.4 580.2 L331.5 581.8 L332.7 583.5 L333.8 585.2 L334.9 586.8 L336.1 588.4 L337.3 590.1 L338.5 591.7 L339.7 593.3 L340.9 594.9 L342.1 596.4 L343.4 598.0 L344.7 599.6 L346.0 601.1 L347.3 602.7 L348.6 604.2 L349.9 605.7 L351.3 607.2 L352.6 608.7 L354.0 610.2 L355.4 611.6 L356.8 613.1 L358.2 614.5 L359.7 616.0 L361.1 617.4 L362.6 618.8 L364.1 620.2 L365.6 621.5 L367.1 622.9 L368.6 624.3 L370.2 625.6 L371.8 626.9 L373.4 628.2 L375.0 629.5 L376.6 630.8 L378.2 632.1 L379.9 633.4 L381.5 634.6 L383.2 635.8 L384.9 637.0 L386.6 638.2 L388.4 639.4 L390.1 640.6 L391.9 641.8" fill="none" stroke="#000" stroke-width="1.6" stroke-linecap="butt" stroke-linejoin="round" />
<path d="M273.2 404 L273.2 408 L297.2 408" stroke="#000" stroke-width="1.8" fill="none"/>
<path d="M279.2 421.6 L284.8 408.6 L290.8 421.6" stroke="#000" stroke-width="1.6" fill="none"/>
<path d="M459.0 673.5 L461.1 674.3 L463.2 675.0 L465.2 675.7 L467.3 676.4 L469.4 677.0 L471.4 677.6 L473.5 678.1 L475.6 678.7 L477.7 679.1 L479.7 679.6 L481.8 680.0 L483.9 680.4 L485.9 680.7 L488.0 681.0 L490.1 681.3 L492.1 681.5 L494.2 681.7 L496.3 681.9 L498.3 682.1 L500.4 682.2 L502.4 682.2 L504.5 682.3 L506.5 682.3 L508.6 682.3 L510.6 682.2 L512.7 682.1 L514.7 682.0 L516.7 681.8 L518.7 681.7 L520.7 681.5 L522.7 681.2 L524.7 680.9 L526.7 680.6 L528.7 680.3 L530.7 679.9 L532.6 679.5 L534.6 679.1 L536.6 678.7 L538.5 678.2 L540.4 677.7 L542.4 677.2 L544.3 676.6 L546.2 676.0 L548.1 675.4 L550.0 674.7 L551.8 674.1 L553.7 673.4 L555.5 672.6 L557.4 671.9 L559.2 671.1 L561.0 670.3 L562.8 669.5 L564.6 668.6 L566.4 667.7 L568.2 666.8 L569.9 665.9 L571.6 664.9 L573.4 663.9 L575.1 662.9 L576.8 661.9 L578.4 660.8 L580.1 659.7 L581.7 658.6 L583.4 657.5 L585.0 656.4 L586.6 655.2 L588.1 654.0 L589.7 652.8 L591.2 651.5 L592.8 650.3 L594.3 649.0 L595.7 647.7 L597.2 646.4 L598.7 645.0 L600.1 643.6 L601.5 642.3 L602.9 640.8 L604.2 639.4 L605.6 638.0 L606.9 636.5 L608.2 635.0 L609.5 633.5 L610.8 632.0 L612.0 630.4 L613.2 628.8 L614.4 627.3 L615.6 625.7 L616.7 624.0 L617.8 622.4 L618.9 620.8 L620.0 619.1 L621.1 617.4 L622.1 615.7 L623.1 614.0 L624.1 612.2 L625.1 610.5 L626.0 608.7 L626.9 607.0 L627.8 605.2 L628.7 603.4 L629.6 601.5 L630.4 599.7 L631.2 597.9 L632.0 596.0 L632.7 594.1 L633.5 592.3 L634.2 590.4 L634.9 588.5 L635.5 586.6 L636.2 584.6 L636.8 582.7 L637.4 580.8 L638.0 578.8 L638.5 576.9 L639.1 574.9 L639.6 572.9 L640.0 570.9 L640.5 569.0 L640.9 567.0 L641.3 565.0 L641.7 563.0 L642.1 560.9 L642.4 558.9 L642.7 556.9 L643.0 554.9 L643.3 552.8 L643.5 550.8 L643.7 548.7 L643.9 546.7 L644.1 544.6 L644.3 542.6 L644.4 540.5 L644.5 538.5 L644.6 536.4 L644.6 534.3 L644.6 532.3 L644.6 530.2 L644.6 528.1 L644.6 526.1 L644.5 524.0 L644.4 521.9 L644.3 519.9 L644.1 517.8 L644.0 515.7 L643.8 513.7 L643.6 511.6 L643.3 509.6 L643.0 507.5 L642.8 505.5" fill="none" stroke="#000" stroke-width="1.6" stroke-linecap="butt" stroke-linejoin="round" />
<path d="M632.4 504.2 L659.4 504.2" stroke="#000" stroke-width="1.8"/>
<path d="M638.4 518 L644.4 505 L650.6 518" stroke="#000" stroke-width="1.6" fill="none"/>
<path d="M678 572 L719 572 M709 565 L719.5 572 L709 579.5" stroke="#000" stroke-width="1.6" fill="none"/>
<path d="M766.5 717 L808 717 M798 710 L808.5 717 L798 724" stroke="#000" stroke-width="1.6" fill="none"/>
<text x="725" y="578.8" font-family="Liberation Sans" fill="#000" stroke="#000" stroke-width="0.4" font-size="17" textLength="191" lengthAdjust="spacingAndGlyphs">Φ=1.5mm[0.059in.]×5</text>
<text x="813" y="723" font-family="Liberation Sans" fill="#000" stroke="#000" stroke-width="0.4" font-size="17" textLength="168" lengthAdjust="spacingAndGlyphs">Φ=4.5mm[0.177in.]</text>
<text transform="translate(394.2 642.6) rotate(21) " font-family="Liberation Sans" fill="#000" stroke="#000" stroke-width="0.4" font-size="18" textLength="63" lengthAdjust="spacingAndGlyphs">230mm</text>
<text transform="translate(389.2 659) rotate(22.5)" font-family="Liberation Sans" fill="#000" stroke="#000" stroke-width="0.4" font-size="18" textLength="61" lengthAdjust="spacingAndGlyphs">[9.06in.]</text>
<text transform="translate(291.5 767.5) rotate(36.5)" font-family="Liberation Sans" fill="#000" stroke="#000" stroke-width="0.4" font-size="18" textLength="64" lengthAdjust="spacingAndGlyphs">260mm</text>
<text transform="translate(278.5 780) rotate(38.5)" font-family="Liberation Sans" fill="#000" stroke="#000" stroke-width="0.4" font-size="18" textLength="69" lengthAdjust="spacingAndGlyphs">[10.24in.]</text>
</svg>
</body></html>
